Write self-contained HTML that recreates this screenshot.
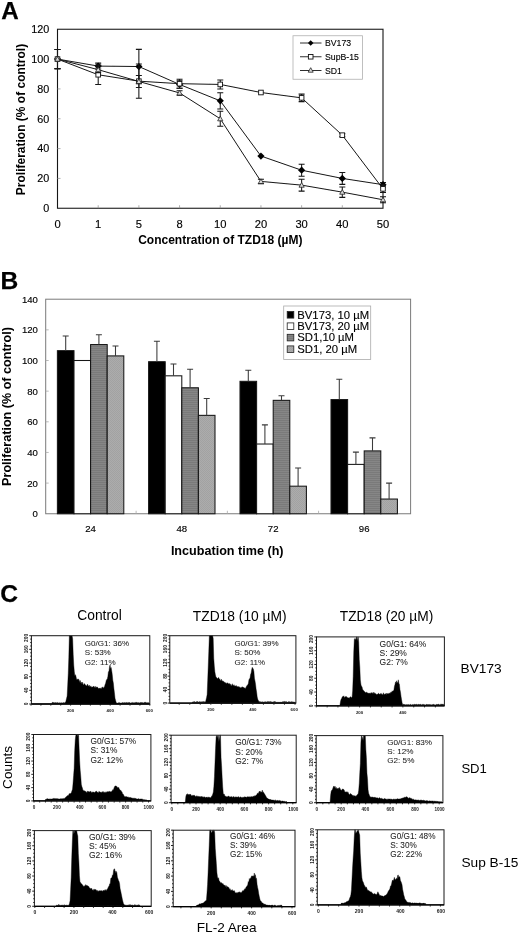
<!DOCTYPE html>
<html lang="en">
<head>
<meta charset="utf-8">
<title>TZD18 proliferation and cell cycle figure</title>
<style>
html,body{margin:0;padding:0;background:#fff;}
body{width:520px;height:934px;overflow:hidden;}
svg{display:block;}
svg text{font-family:"Liberation Sans", Arial, Helvetica, sans-serif;}
</style>
</head>
<body>
<svg width="520" height="934" viewBox="0 0 520 934">
<defs><filter id="soft" x="0" y="0" width="100%" height="100%" filterUnits="userSpaceOnUse" primitiveUnits="userSpaceOnUse"><feGaussianBlur stdDeviation="0.38"/></filter></defs>
<rect width="520" height="934" fill="#fff"/>
<g filter="url(#soft)">
<g id="panelA">
<text x="1.3" y="19.4" font-size="24.2" font-weight="bold" stroke="#000" stroke-width="0.25">A</text>
<rect x="57.5" y="29.25" width="325.5" height="179" fill="none" stroke="#161616" stroke-width="1.1"/>
<line x1="98.19" y1="208.25" x2="98.19" y2="205.25" stroke="#999" stroke-width="0.8"/>
<line x1="138.88" y1="208.25" x2="138.88" y2="205.25" stroke="#999" stroke-width="0.8"/>
<line x1="179.56" y1="208.25" x2="179.56" y2="205.25" stroke="#999" stroke-width="0.8"/>
<line x1="220.25" y1="208.25" x2="220.25" y2="205.25" stroke="#999" stroke-width="0.8"/>
<line x1="260.94" y1="208.25" x2="260.94" y2="205.25" stroke="#999" stroke-width="0.8"/>
<line x1="301.62" y1="208.25" x2="301.62" y2="205.25" stroke="#999" stroke-width="0.8"/>
<line x1="342.31" y1="208.25" x2="342.31" y2="205.25" stroke="#999" stroke-width="0.8"/>
<line x1="57.5" y1="178.42" x2="60.5" y2="178.42" stroke="#999" stroke-width="0.8"/>
<line x1="57.5" y1="148.58" x2="60.5" y2="148.58" stroke="#999" stroke-width="0.8"/>
<line x1="57.5" y1="118.75" x2="60.5" y2="118.75" stroke="#999" stroke-width="0.8"/>
<line x1="57.5" y1="88.92" x2="60.5" y2="88.92" stroke="#999" stroke-width="0.8"/>
<line x1="57.5" y1="59.08" x2="60.5" y2="59.08" stroke="#999" stroke-width="0.8"/>
<text x="49.3" y="212.15" font-size="10.8" text-anchor="end" fill="#000" stroke="#000" stroke-width="0.15">0</text>
<text x="49.3" y="182.32" font-size="10.8" text-anchor="end" fill="#000" stroke="#000" stroke-width="0.15">20</text>
<text x="49.3" y="152.48" font-size="10.8" text-anchor="end" fill="#000" stroke="#000" stroke-width="0.15">40</text>
<text x="49.3" y="122.65" font-size="10.8" text-anchor="end" fill="#000" stroke="#000" stroke-width="0.15">60</text>
<text x="49.3" y="92.82" font-size="10.8" text-anchor="end" fill="#000" stroke="#000" stroke-width="0.15">80</text>
<text x="49.3" y="62.98" font-size="10.8" text-anchor="end" fill="#000" stroke="#000" stroke-width="0.15">100</text>
<text x="49.3" y="33.15" font-size="10.8" text-anchor="end" fill="#000" stroke="#000" stroke-width="0.15">120</text>
<text x="57.5" y="228.2" font-size="11.2" text-anchor="middle" fill="#000" stroke="#000" stroke-width="0.15">0</text>
<text x="98.19" y="228.2" font-size="11.2" text-anchor="middle" fill="#000" stroke="#000" stroke-width="0.15">1</text>
<text x="138.88" y="228.2" font-size="11.2" text-anchor="middle" fill="#000" stroke="#000" stroke-width="0.15">5</text>
<text x="179.56" y="228.2" font-size="11.2" text-anchor="middle" fill="#000" stroke="#000" stroke-width="0.15">8</text>
<text x="220.25" y="228.2" font-size="11.2" text-anchor="middle" fill="#000" stroke="#000" stroke-width="0.15">10</text>
<text x="260.94" y="228.2" font-size="11.2" text-anchor="middle" fill="#000" stroke="#000" stroke-width="0.15">20</text>
<text x="301.62" y="228.2" font-size="11.2" text-anchor="middle" fill="#000" stroke="#000" stroke-width="0.15">30</text>
<text x="342.31" y="228.2" font-size="11.2" text-anchor="middle" fill="#000" stroke="#000" stroke-width="0.15">40</text>
<text x="383" y="228.2" font-size="11.2" text-anchor="middle" fill="#000" stroke="#000" stroke-width="0.15">50</text>
<text x="220.3" y="243.7" font-size="12" font-weight="bold" text-anchor="middle">Concentration of TZD18 (µM)</text>
<text transform="translate(24.7,119.5) rotate(-90)" font-size="12" font-weight="bold" text-anchor="middle">Proliferation (% of control)</text>
<polyline points="57.5,59.08 98.19,66.09 138.88,66.54 179.56,84.44 220.25,100.85 260.94,156.04 301.62,170.21 342.31,178.42 383,184.68" fill="none" stroke="#161616" stroke-width="1.0"/>
<path d="M57.5 49.54V68.63M54.5 49.54h6M54.5 68.63h6" stroke="#161616" stroke-width="1.05" fill="none"/>
<path d="M98.19 63.11V69.08M95.19 63.11h6M95.19 69.08h6" stroke="#161616" stroke-width="1.05" fill="none"/>
<path d="M138.88 49.39V83.7M135.88 49.39h6M135.88 83.7h6" stroke="#161616" stroke-width="1.05" fill="none"/>
<path d="M179.56 80.71V88.17M176.56 80.71h6M176.56 88.17h6" stroke="#161616" stroke-width="1.05" fill="none"/>
<path d="M220.25 92.65V109.05M217.25 92.65h6M217.25 109.05h6" stroke="#161616" stroke-width="1.05" fill="none"/>
<path d="M301.62 164.25V176.18M298.62 164.25h6M298.62 176.18h6" stroke="#161616" stroke-width="1.05" fill="none"/>
<path d="M342.31 172.45V184.38M339.31 172.45h6M339.31 184.38h6" stroke="#161616" stroke-width="1.05" fill="none"/>
<path d="M383 182.44V186.92M380 182.44h6M380 186.92h6" stroke="#161616" stroke-width="1.05" fill="none"/>
<path d="M57.5 55.48L61.1 59.08L57.5 62.68L53.9 59.08Z" fill="#000"/>
<path d="M98.19 62.49L101.79 66.09L98.19 69.69L94.59 66.09Z" fill="#000"/>
<path d="M138.88 62.94L142.47 66.54L138.88 70.14L135.28 66.54Z" fill="#000"/>
<path d="M179.56 80.84L183.16 84.44L179.56 88.04L175.96 84.44Z" fill="#000"/>
<path d="M220.25 97.25L223.85 100.85L220.25 104.45L216.65 100.85Z" fill="#000"/>
<path d="M260.94 152.44L264.54 156.04L260.94 159.64L257.34 156.04Z" fill="#000"/>
<path d="M301.62 166.61L305.23 170.21L301.62 173.81L298.02 170.21Z" fill="#000"/>
<path d="M342.31 174.82L345.91 178.42L342.31 182.02L338.71 178.42Z" fill="#000"/>
<path d="M383 181.08L386.6 184.68L383 188.28L379.4 184.68Z" fill="#000"/>
<polyline points="57.5,59.08 98.19,74.75 138.88,81.16 179.56,83.7 220.25,84.44 260.94,92.5 301.62,97.87 342.31,135.16 383,188.86" fill="none" stroke="#161616" stroke-width="1.0"/>
<path d="M57.5 49.54V68.63M54.5 49.54h6M54.5 68.63h6" stroke="#161616" stroke-width="1.05" fill="none"/>
<path d="M98.19 64.9V84.59M95.19 64.9h6M95.19 84.59h6" stroke="#161616" stroke-width="1.05" fill="none"/>
<path d="M138.88 64.01V98.31M135.88 64.01h6M135.88 98.31h6" stroke="#161616" stroke-width="1.05" fill="none"/>
<path d="M179.56 79.22V88.17M176.56 79.22h6M176.56 88.17h6" stroke="#161616" stroke-width="1.05" fill="none"/>
<path d="M220.25 79.97V88.92M217.25 79.97h6M217.25 88.92h6" stroke="#161616" stroke-width="1.05" fill="none"/>
<path d="M301.62 94.14V101.6M298.62 94.14h6M298.62 101.6h6" stroke="#161616" stroke-width="1.05" fill="none"/>
<path d="M342.31 133.67V136.65M339.31 133.67h6M339.31 136.65h6" stroke="#161616" stroke-width="1.05" fill="none"/>
<path d="M383 185.13V192.59M380 185.13h6M380 192.59h6" stroke="#161616" stroke-width="1.05" fill="none"/>
<rect x="55.2" y="56.78" width="4.6" height="4.6" fill="#fff" stroke="#111" stroke-width="0.9"/>
<rect x="95.89" y="72.45" width="4.6" height="4.6" fill="#fff" stroke="#111" stroke-width="0.9"/>
<rect x="136.57" y="78.86" width="4.6" height="4.6" fill="#fff" stroke="#111" stroke-width="0.9"/>
<rect x="177.26" y="81.4" width="4.6" height="4.6" fill="#fff" stroke="#111" stroke-width="0.9"/>
<rect x="217.95" y="82.14" width="4.6" height="4.6" fill="#fff" stroke="#111" stroke-width="0.9"/>
<rect x="258.64" y="90.2" width="4.6" height="4.6" fill="#fff" stroke="#111" stroke-width="0.9"/>
<rect x="299.32" y="95.57" width="4.6" height="4.6" fill="#fff" stroke="#111" stroke-width="0.9"/>
<rect x="340.01" y="132.86" width="4.6" height="4.6" fill="#fff" stroke="#111" stroke-width="0.9"/>
<rect x="380.7" y="186.56" width="4.6" height="4.6" fill="#fff" stroke="#111" stroke-width="0.9"/>
<polyline points="57.5,59.08 98.19,69.67 138.88,81.46 179.56,92.94 220.25,118.75 260.94,181.4 301.62,185.13 342.31,192.14 383,199.75" fill="none" stroke="#161616" stroke-width="1.0"/>
<path d="M57.5 49.54V68.63M54.5 49.54h6M54.5 68.63h6" stroke="#161616" stroke-width="1.05" fill="none"/>
<path d="M98.19 66.69V72.66M95.19 66.69h6M95.19 72.66h6" stroke="#161616" stroke-width="1.05" fill="none"/>
<path d="M138.88 75.49V87.42M135.88 75.49h6M135.88 87.42h6" stroke="#161616" stroke-width="1.05" fill="none"/>
<path d="M179.56 90.71V95.18M176.56 90.71h6M176.56 95.18h6" stroke="#161616" stroke-width="1.05" fill="none"/>
<path d="M220.25 111.29V126.21M217.25 111.29h6M217.25 126.21h6" stroke="#161616" stroke-width="1.05" fill="none"/>
<path d="M260.94 179.16V183.64M257.94 179.16h6M257.94 183.64h6" stroke="#161616" stroke-width="1.05" fill="none"/>
<path d="M301.62 179.16V191.1M298.62 179.16h6M298.62 191.1h6" stroke="#161616" stroke-width="1.05" fill="none"/>
<path d="M342.31 186.92V197.36M339.31 186.92h6M339.31 197.36h6" stroke="#161616" stroke-width="1.05" fill="none"/>
<path d="M383 196.76V202.73M380 196.76h6M380 202.73h6" stroke="#161616" stroke-width="1.05" fill="none"/>
<path d="M57.5 56.48L60.1 61.16L54.9 61.16Z" fill="#ddd" stroke="#222" stroke-width="0.8"/>
<path d="M98.19 67.07L100.79 71.75L95.59 71.75Z" fill="#ddd" stroke="#222" stroke-width="0.8"/>
<path d="M138.88 78.86L141.47 83.54L136.28 83.54Z" fill="#ddd" stroke="#222" stroke-width="0.8"/>
<path d="M179.56 90.34L182.16 95.02L176.96 95.02Z" fill="#ddd" stroke="#222" stroke-width="0.8"/>
<path d="M220.25 116.15L222.85 120.83L217.65 120.83Z" fill="#ddd" stroke="#222" stroke-width="0.8"/>
<path d="M260.94 178.8L263.54 183.48L258.34 183.48Z" fill="#ddd" stroke="#222" stroke-width="0.8"/>
<path d="M301.62 182.53L304.23 187.21L299.02 187.21Z" fill="#ddd" stroke="#222" stroke-width="0.8"/>
<path d="M342.31 189.54L344.91 194.22L339.71 194.22Z" fill="#ddd" stroke="#222" stroke-width="0.8"/>
<path d="M383 197.15L385.6 201.83L380.4 201.83Z" fill="#ddd" stroke="#222" stroke-width="0.8"/>
<rect x="293" y="35.75" width="69.5" height="43.5" fill="#fff" stroke="#b0b0b0" stroke-width="0.8"/>
<line x1="300" y1="43" x2="321.5" y2="43" stroke="#161616" stroke-width="0.9"/>
<path d="M310.7 40.2L313.5 43L310.7 45.8L307.9 43Z" fill="#000"/>
<text x="325" y="46.1" font-size="8.7" fill="#000" stroke="#000" stroke-width="0.12">BV173</text>
<line x1="300" y1="56.75" x2="321.5" y2="56.75" stroke="#161616" stroke-width="0.9"/>
<rect x="308.4" y="54.45" width="4.6" height="4.6" fill="#fff" stroke="#111" stroke-width="0.9"/>
<text x="325" y="59.85" font-size="8.7" fill="#000" stroke="#000" stroke-width="0.12">SupB-15</text>
<line x1="300" y1="70.5" x2="321.5" y2="70.5" stroke="#161616" stroke-width="0.9"/>
<path d="M310.7 67.7L313.2 72.2L308.2 72.2Z" fill="#ddd" stroke="#222" stroke-width="0.8"/>
<text x="325" y="73.6" font-size="8.7" fill="#000" stroke="#000" stroke-width="0.12">SD1</text>
</g>
<g id="panelB">
<defs><pattern id="pd" width="2" height="2" patternUnits="userSpaceOnUse"><rect width="2" height="2" fill="#868686"/><rect y="0" width="2" height="1" fill="#7a7a7a"/></pattern><pattern id="pl" width="2" height="2" patternUnits="userSpaceOnUse"><rect width="2" height="2" fill="#acacac"/><rect width="1" height="1" fill="#a2a2a2"/><rect x="1" y="1" width="1" height="1" fill="#a2a2a2"/></pattern></defs>
<text x="0.5" y="289.4" font-size="24.6" font-weight="bold" stroke="#000" stroke-width="0.25">B</text>
<rect x="45.7" y="299.2" width="364.9" height="214.55" fill="none" stroke="#7a7a7a" stroke-width="1"/>
<text x="37.9" y="517.15" font-size="9.6" text-anchor="end" fill="#000" stroke="#000" stroke-width="0.15">0</text>
<text x="37.9" y="486.5" font-size="9.6" text-anchor="end" fill="#000" stroke="#000" stroke-width="0.15">20</text>
<line x1="45.7" y1="483.1" x2="48.7" y2="483.1" stroke="#aaa" stroke-width="0.8"/>
<text x="37.9" y="455.85" font-size="9.6" text-anchor="end" fill="#000" stroke="#000" stroke-width="0.15">40</text>
<line x1="45.7" y1="452.45" x2="48.7" y2="452.45" stroke="#aaa" stroke-width="0.8"/>
<text x="37.9" y="425.2" font-size="9.6" text-anchor="end" fill="#000" stroke="#000" stroke-width="0.15">60</text>
<line x1="45.7" y1="421.8" x2="48.7" y2="421.8" stroke="#aaa" stroke-width="0.8"/>
<text x="37.9" y="394.55" font-size="9.6" text-anchor="end" fill="#000" stroke="#000" stroke-width="0.15">80</text>
<line x1="45.7" y1="391.15" x2="48.7" y2="391.15" stroke="#aaa" stroke-width="0.8"/>
<text x="37.9" y="363.9" font-size="9.6" text-anchor="end" fill="#000" stroke="#000" stroke-width="0.15">100</text>
<line x1="45.7" y1="360.5" x2="48.7" y2="360.5" stroke="#aaa" stroke-width="0.8"/>
<text x="37.9" y="333.25" font-size="9.6" text-anchor="end" fill="#000" stroke="#000" stroke-width="0.15">120</text>
<line x1="45.7" y1="329.85" x2="48.7" y2="329.85" stroke="#aaa" stroke-width="0.8"/>
<text x="37.9" y="302.6" font-size="9.6" text-anchor="end" fill="#000" stroke="#000" stroke-width="0.15">140</text>
<line x1="136.12" y1="513.75" x2="136.12" y2="510.75" stroke="#aaa" stroke-width="0.8"/>
<line x1="227.35" y1="513.75" x2="227.35" y2="510.75" stroke="#aaa" stroke-width="0.8"/>
<line x1="318.57" y1="513.75" x2="318.57" y2="510.75" stroke="#aaa" stroke-width="0.8"/>
<rect x="57.4" y="350.69" width="16.6" height="163.06" fill="#000" stroke="#151515" stroke-width="1.05"/>
<path d="M65.7 350.69V335.98M62.7 335.98h6" stroke="#3a3a3a" stroke-width="1.05" fill="none"/>
<rect x="74" y="360.5" width="16.6" height="153.25" fill="#fff" stroke="#151515" stroke-width="1.05"/>
<rect x="90.6" y="344.56" width="16.6" height="169.19" fill="url(#pd)" stroke="#151515" stroke-width="1.05"/>
<path d="M98.9 344.56V334.75M95.9 334.75h6" stroke="#3a3a3a" stroke-width="1.05" fill="none"/>
<rect x="107.2" y="355.9" width="16.6" height="157.85" fill="url(#pl)" stroke="#151515" stroke-width="1.05"/>
<path d="M115.5 355.9V346.09M112.5 346.09h6" stroke="#3a3a3a" stroke-width="1.05" fill="none"/>
<text x="90.6" y="532.4" font-size="9.6" text-anchor="middle" fill="#000" stroke="#000" stroke-width="0.15">24</text>
<rect x="148.6" y="361.73" width="16.6" height="152.02" fill="#000" stroke="#151515" stroke-width="1.05"/>
<path d="M156.9 361.73V341.34M153.9 341.34h6" stroke="#3a3a3a" stroke-width="1.05" fill="none"/>
<rect x="165.2" y="375.82" width="16.6" height="137.93" fill="#fff" stroke="#151515" stroke-width="1.05"/>
<path d="M173.5 375.82V364.02M170.5 364.02h6" stroke="#3a3a3a" stroke-width="1.05" fill="none"/>
<rect x="181.8" y="387.78" width="16.6" height="125.97" fill="url(#pd)" stroke="#151515" stroke-width="1.05"/>
<path d="M190.1 387.78V369.24M187.1 369.24h6" stroke="#3a3a3a" stroke-width="1.05" fill="none"/>
<rect x="198.4" y="415.36" width="16.6" height="98.39" fill="url(#pl)" stroke="#151515" stroke-width="1.05"/>
<path d="M206.7 415.36V398.51M203.7 398.51h6" stroke="#3a3a3a" stroke-width="1.05" fill="none"/>
<text x="181.8" y="532.4" font-size="9.6" text-anchor="middle" fill="#000" stroke="#000" stroke-width="0.15">48</text>
<rect x="240" y="381.34" width="16.6" height="132.41" fill="#000" stroke="#151515" stroke-width="1.05"/>
<path d="M248.3 381.34V370.31M245.3 370.31h6" stroke="#3a3a3a" stroke-width="1.05" fill="none"/>
<rect x="256.6" y="444.02" width="16.6" height="69.73" fill="#fff" stroke="#151515" stroke-width="1.05"/>
<path d="M264.9 444.02V424.87M261.9 424.87h6" stroke="#3a3a3a" stroke-width="1.05" fill="none"/>
<rect x="273.2" y="400.35" width="16.6" height="113.4" fill="url(#pd)" stroke="#151515" stroke-width="1.05"/>
<path d="M281.5 400.35V395.75M278.5 395.75h6" stroke="#3a3a3a" stroke-width="1.05" fill="none"/>
<rect x="289.8" y="486.17" width="16.6" height="27.58" fill="url(#pl)" stroke="#151515" stroke-width="1.05"/>
<path d="M298.1 486.17V468.08M295.1 468.08h6" stroke="#3a3a3a" stroke-width="1.05" fill="none"/>
<text x="273.2" y="532.4" font-size="9.6" text-anchor="middle" fill="#000" stroke="#000" stroke-width="0.15">72</text>
<rect x="331" y="399.58" width="16.6" height="114.17" fill="#000" stroke="#151515" stroke-width="1.05"/>
<path d="M339.3 399.58V379.2M336.3 379.2h6" stroke="#3a3a3a" stroke-width="1.05" fill="none"/>
<rect x="347.6" y="464.4" width="16.6" height="49.35" fill="#fff" stroke="#151515" stroke-width="1.05"/>
<path d="M355.9 464.4V452.14M352.9 452.14h6" stroke="#3a3a3a" stroke-width="1.05" fill="none"/>
<rect x="364.2" y="450.92" width="16.6" height="62.83" fill="url(#pd)" stroke="#151515" stroke-width="1.05"/>
<path d="M372.5 450.92V437.89M369.5 437.89h6" stroke="#3a3a3a" stroke-width="1.05" fill="none"/>
<rect x="380.8" y="499.04" width="16.6" height="14.71" fill="url(#pl)" stroke="#151515" stroke-width="1.05"/>
<path d="M389.1 499.04V483.1M386.1 483.1h6" stroke="#3a3a3a" stroke-width="1.05" fill="none"/>
<text x="364.2" y="532.4" font-size="9.6" text-anchor="middle" fill="#000" stroke="#000" stroke-width="0.15">96</text>
<text x="227.2" y="555.2" font-size="12.6" font-weight="bold" text-anchor="middle">Incubation time (h)</text>
<text transform="translate(10.9,406.5) rotate(-90)" font-size="12.6" font-weight="bold" text-anchor="middle">Proliferation (% of control)</text>
<rect x="283.7" y="306" width="87" height="53.4" fill="#fff" stroke="#aaa" stroke-width="0.8"/>
<rect x="287.2" y="311.5" width="6.6" height="6.6" fill="#000" stroke="#222" stroke-width="0.8"/>
<text x="297.3" y="318.6" font-size="11.3" fill="#000" stroke="#000" stroke-width="0.12">BV173, 10 µM</text>
<rect x="287.2" y="322.9" width="6.6" height="6.6" fill="#fff" stroke="#222" stroke-width="0.8"/>
<text x="297.3" y="330" font-size="11.3" fill="#000" stroke="#000" stroke-width="0.12">BV173, 20 µM</text>
<rect x="287.2" y="334.3" width="6.6" height="6.6" fill="url(#pd)" stroke="#222" stroke-width="0.8"/>
<text x="297.3" y="341.4" font-size="11.3" fill="#000" stroke="#000" stroke-width="0.12">SD1,10 µM</text>
<rect x="287.2" y="345.9" width="6.6" height="6.6" fill="url(#pl)" stroke="#222" stroke-width="0.8"/>
<text x="297.3" y="353" font-size="11.3" fill="#000" stroke="#000" stroke-width="0.12">SD1, 20 µM</text>
</g>
<g id="panelC">
<text x="0.3" y="602.2" font-size="24.6" font-weight="bold" stroke="#000" stroke-width="0.25">C</text>
<text x="77.3" y="620.2" font-size="13.8" fill="#000">Control</text>
<text x="192.8" y="620.5" font-size="13.8" fill="#000">TZD18 (10 µM)</text>
<text x="339.8" y="621.3" font-size="13.75" fill="#000">TZD18 (20 µM)</text>
<text x="460.6" y="672.9" font-size="13.7" fill="#000">BV173</text>
<text x="461.4" y="773" font-size="13.1" fill="#000">SD1</text>
<text x="461.4" y="866.7" font-size="13.7" fill="#000">Sup B-15</text>
<text transform="translate(12.2,767.4) rotate(-90)" font-size="13.6" text-anchor="middle" fill="#000">Counts</text>
<text x="196.8" y="931.6" font-size="13.6" fill="#000">FL-2 Area</text>
<g id="h1">
<path d="M65.5 703.4L65.5 703.12L66.05 700.6L66.6 698.21L67.15 696.09L67.7 684.88L68.25 673.39L68.8 657.83L69.35 635.7L69.9 635.7L70.45 635.7L71 636.27L71.55 635.7L72.1 635.88L72.65 638.77L73.2 654.33L73.75 665.08L74.3 671.57L74.85 675.82L75.4 674.64L75.95 676.24L76.5 679L77.05 680.01L77.6 678.93L78.15 679.17L78.7 679.09L79.25 682.43L79.8 680.33L80.35 680.65L80.9 683.28L81.45 682.14L82 684.22L82.55 682.12L83.1 684.59L83.65 684.92L84.2 683.45L84.75 684.07L85.3 684.97L85.85 685.34L86.4 685.68L86.95 685.75L87.5 684.05L88.05 685.64L88.6 686.29L89.15 685.02L89.7 686.61L90.25 686.9L90.8 685.84L91.35 687.04L91.9 687.31L92.45 687.1L93 687.03L93.55 685.97L94.1 686.64L94.65 687.86L95.2 686.25L95.75 687.93L96.3 686.74L96.85 687.86L97.4 686.87L97.95 688.08L98.5 688.47L99.05 688.33L99.6 688.35L100.15 688.04L100.7 688.46L101.25 688.77L101.8 687.41L102.35 687.46L102.9 686.79L103.45 688.32L104 687.47L104.55 686.57L105.1 684.53L105.65 683.32L106.2 680.56L106.75 679.45L107.3 678.89L107.85 676.49L108.4 671.63L108.95 671.6L109.5 666.78L110.05 664.94L110.6 668.39L111.15 667.57L111.7 670.65L112.25 674.6L112.8 680.22L113.35 682.92L113.9 688.62L114.45 692.92L115 698.13L115.55 700.18L116.1 702.35L116.3 703.4Z" fill="#000" stroke="#000" stroke-width="0.4"/>
<path d="M52 703.4L52 702.31L52.8 702.41L53.6 702.54L54.4 702.85L55.2 702.54L56 702.68L56.8 702.8L57.6 702.45L58.4 703.12L59.2 702.52L60 703.17L60.8 702.66L61.6 702.77L62.4 702.99L63.2 702.57L64 702.75L64.8 702.65L65.6 702.37L66.4 702.97L67.2 703.19L68 702.93L68.8 702.59L69.6 703.02L70.4 703.05L71.2 702.38L72 702.61L72.8 702.8L73.6 702.4L74.4 702.91L75.2 702.6L76 703.02L76.8 702.81L77.6 702.47L78.4 702.38L79.2 702.41L80 702.85L80.8 702.68L81.6 702.92L82.4 703.08L83.2 702.75L84 702.45L84.8 702.44L85.6 702.56L86.4 702.34L87.2 702.95L88 703.05L88.8 702.79L89.6 702.95L90.4 703.01L91.2 702.83L92 702.64L92.8 702.76L93.6 702.92L94.4 702.44L95.2 702.32L96 702.79L96.8 703.13L97.6 703.17L98.4 702.41L99.2 703.16L100 702.56L100.8 702.69L101.6 702.92L102.4 702.49L103.2 703.18L104 703.08L104.8 702.79L105.6 703.18L106.4 702.45L107.2 702.99L108 703.07L108.8 703.16L109.6 702.63L110.4 702.8L111.2 702.63L112 702.61L112.8 702.47L113.6 702.34L114.4 702.58L115.2 703.02L116 702.77L116.8 703.04L117.6 703.19L118.4 702.78L119.2 702.56L120 703.04L120.8 702.95L121.6 702.89L122.4 702.57L123.2 702.73L124 702.65L124.8 702.52L125.6 702.85L126.4 702.49L127.2 702.38L128 703.12L128.8 702.36L129.6 702.55L130.4 703.08L131.2 702.79L132 702.64L132.8 702.38L133.6 702.86L134.4 702.69L135.2 702.41L136 702.48L136.8 702.35L137.6 702.78L138.4 702.61L139.2 703.02L140 702.55L140.8 702.46L141.6 702.62L142.4 702.55L143.2 703.01L144 702.39L144.8 702.32L145.6 702.32L146.4 702.72L147.2 702.49L148 702.91L148.8 702.38L149 703.4Z" fill="#000" stroke="#000" stroke-width="0.3"/>
<rect x="31.4" y="635.7" width="118.4" height="68.3" fill="none" stroke="#1c1c1c" stroke-width="1"/>
<line x1="31.4" y1="704" x2="149.8" y2="704" stroke="#000" stroke-width="1.3"/>
<line x1="29.2" y1="704" x2="31.4" y2="704" stroke="#111" stroke-width="0.9"/>
<line x1="30.2" y1="700.59" x2="31.4" y2="700.59" stroke="#111" stroke-width="0.9"/>
<line x1="30.2" y1="697.17" x2="31.4" y2="697.17" stroke="#111" stroke-width="0.9"/>
<line x1="30.2" y1="693.75" x2="31.4" y2="693.75" stroke="#111" stroke-width="0.9"/>
<line x1="29.2" y1="690.34" x2="31.4" y2="690.34" stroke="#111" stroke-width="0.9"/>
<line x1="30.2" y1="686.92" x2="31.4" y2="686.92" stroke="#111" stroke-width="0.9"/>
<line x1="30.2" y1="683.51" x2="31.4" y2="683.51" stroke="#111" stroke-width="0.9"/>
<line x1="30.2" y1="680.1" x2="31.4" y2="680.1" stroke="#111" stroke-width="0.9"/>
<line x1="29.2" y1="676.68" x2="31.4" y2="676.68" stroke="#111" stroke-width="0.9"/>
<line x1="30.2" y1="673.26" x2="31.4" y2="673.26" stroke="#111" stroke-width="0.9"/>
<line x1="30.2" y1="669.85" x2="31.4" y2="669.85" stroke="#111" stroke-width="0.9"/>
<line x1="30.2" y1="666.44" x2="31.4" y2="666.44" stroke="#111" stroke-width="0.9"/>
<line x1="29.2" y1="663.02" x2="31.4" y2="663.02" stroke="#111" stroke-width="0.9"/>
<line x1="30.2" y1="659.61" x2="31.4" y2="659.61" stroke="#111" stroke-width="0.9"/>
<line x1="30.2" y1="656.19" x2="31.4" y2="656.19" stroke="#111" stroke-width="0.9"/>
<line x1="30.2" y1="652.78" x2="31.4" y2="652.78" stroke="#111" stroke-width="0.9"/>
<line x1="29.2" y1="649.36" x2="31.4" y2="649.36" stroke="#111" stroke-width="0.9"/>
<line x1="30.2" y1="645.95" x2="31.4" y2="645.95" stroke="#111" stroke-width="0.9"/>
<line x1="30.2" y1="642.53" x2="31.4" y2="642.53" stroke="#111" stroke-width="0.9"/>
<line x1="30.2" y1="639.12" x2="31.4" y2="639.12" stroke="#111" stroke-width="0.9"/>
<line x1="29.2" y1="635.7" x2="31.4" y2="635.7" stroke="#111" stroke-width="0.9"/>
<text transform="translate(28.2,704) rotate(-90)" font-size="4.8" font-weight="bold" text-anchor="middle" fill="#222">0</text>
<text transform="translate(28.2,690.34) rotate(-90)" font-size="4.8" font-weight="bold" text-anchor="middle" fill="#222">40</text>
<text transform="translate(28.2,676.68) rotate(-90)" font-size="4.8" font-weight="bold" text-anchor="middle" fill="#222">80</text>
<text transform="translate(28.2,663.02) rotate(-90)" font-size="4.8" font-weight="bold" text-anchor="middle" fill="#222">120</text>
<text transform="translate(28.2,649.36) rotate(-90)" font-size="4.8" font-weight="bold" text-anchor="middle" fill="#222">160</text>
<text transform="translate(28.2,637.9) rotate(-90)" font-size="4.8" font-weight="bold" text-anchor="middle" fill="#222">200</text>
<line x1="31" y1="704" x2="31" y2="705.6" stroke="#111" stroke-width="0.9"/>
<line x1="40.9" y1="704" x2="40.9" y2="705.6" stroke="#111" stroke-width="0.9"/>
<line x1="50.8" y1="704" x2="50.8" y2="705.6" stroke="#111" stroke-width="0.9"/>
<line x1="60.7" y1="704" x2="60.7" y2="705.6" stroke="#111" stroke-width="0.9"/>
<line x1="70.6" y1="704" x2="70.6" y2="705.6" stroke="#111" stroke-width="0.9"/>
<line x1="80.5" y1="704" x2="80.5" y2="705.6" stroke="#111" stroke-width="0.9"/>
<line x1="90.4" y1="704" x2="90.4" y2="705.6" stroke="#111" stroke-width="0.9"/>
<line x1="100.3" y1="704" x2="100.3" y2="705.6" stroke="#111" stroke-width="0.9"/>
<line x1="110.2" y1="704" x2="110.2" y2="705.6" stroke="#111" stroke-width="0.9"/>
<line x1="120.1" y1="704" x2="120.1" y2="705.6" stroke="#111" stroke-width="0.9"/>
<line x1="130" y1="704" x2="130" y2="705.6" stroke="#111" stroke-width="0.9"/>
<line x1="139.9" y1="704" x2="139.9" y2="705.6" stroke="#111" stroke-width="0.9"/>
<line x1="149.8" y1="704" x2="149.8" y2="705.6" stroke="#111" stroke-width="0.9"/>
<text x="70.6" y="712.3" font-size="4.4" font-weight="bold" text-anchor="middle" fill="#222">200</text>
<text x="110.2" y="712.3" font-size="4.4" font-weight="bold" text-anchor="middle" fill="#222">400</text>
<text x="149.3" y="712.3" font-size="4.4" font-weight="bold" text-anchor="middle" fill="#222">600</text>
<text x="84.8" y="646" font-size="8.07" fill="#242424" stroke="#242424" stroke-width="0.06">G0/G1: 36%</text>
<text x="84.8" y="655.3" font-size="8.07" fill="#242424" stroke="#242424" stroke-width="0.06">S: 53%</text>
<text x="84.8" y="664.6" font-size="8.07" fill="#242424" stroke="#242424" stroke-width="0.06">G2: 11%</text>
</g>
<g id="h2">
<path d="M205.5 702.5L205.5 702.17L206.05 699.79L206.6 697.44L207.15 694.54L207.7 680.38L208.25 665.92L208.8 651.22L209.35 635.7L209.9 635.8L210.45 635.73L211 635.7L211.55 635.7L212.1 635.73L212.65 635.7L213.2 638.52L213.75 658.19L214.3 666.09L214.85 671.85L215.4 674.63L215.95 677.02L216.5 677.59L217.05 678.01L217.6 679.05L218.15 677.84L218.7 677.52L219.25 679.62L219.8 678.76L220.35 680.77L220.9 680.17L221.45 679.2L222 681.33L222.55 680.7L223.1 681.55L223.65 681.22L224.2 682.32L224.75 682.32L225.3 683.14L225.85 682.48L226.4 683.53L226.95 683.52L227.5 682.83L228.05 683.09L228.6 684.08L229.15 684.28L229.7 683.35L230.25 685.5L230.8 683.99L231.35 685.45L231.9 685.72L232.45 683.73L233 685.38L233.55 685.53L234.1 684.74L234.65 686.17L235.2 685.79L235.75 686.22L236.3 685.55L236.85 686.52L237.4 686.67L237.95 686.51L238.5 686.56L239.05 687.48L239.6 686.7L240.15 687.74L240.7 687.64L241.25 687.33L241.8 687.38L242.35 686.67L242.9 687.32L243.45 687.47L244 687.38L244.55 688.33L245.1 687.67L245.65 688.9L246.2 686.97L246.75 685.67L247.3 685.21L247.85 684.69L248.4 683.33L248.95 679.7L249.5 678.75L250.05 678.07L250.6 674.37L251.15 673.11L251.7 669.46L252.25 667.33L252.8 668.27L253.35 669.07L253.9 671.49L254.45 678.24L255 680.96L255.55 684.22L256.1 689.02L256.65 692.36L257.2 696.95L257.75 699.27L258.3 700.35L258.85 701.78L259 702.5Z" fill="#000" stroke="#000" stroke-width="0.4"/>
<path d="M192 702.5L192 702.15L192.8 701.88L193.6 701.75L194.4 701.54L195.2 702.08L196 701.89L196.8 701.53L197.6 701.55L198.4 702.1L199.2 701.82L200 701.61L200.8 701.94L201.6 701.69L202.4 701.7L203.2 701.42L204 701.8L204.8 701.69L205.6 701.98L206.4 701.64L207.2 702.01L208 701.85L208.8 701.98L209.6 702.02L210.4 702.18L211.2 702.1L212 701.81L212.8 702.07L213.6 702.26L214.4 701.58L215.2 702.04L216 701.46L216.8 701.76L217.6 701.95L218.4 701.51L219.2 701.49L220 702.01L220.8 702.19L221.6 701.72L222.4 701.54L223.2 701.75L224 701.59L224.8 701.93L225.6 701.74L226.4 702.06L227.2 701.93L228 701.96L228.8 701.95L229.6 701.94L230.4 701.57L231.2 702.15L232 702.12L232.8 702.07L233.6 701.43L234.4 701.83L235.2 702.25L236 701.55L236.8 701.51L237.6 701.56L238.4 701.98L239.2 701.64L240 702.03L240.8 702.18L241.6 701.52L242.4 701.55L243.2 702.11L244 701.51L244.8 702.28L245.6 702.02L246.4 702.29L247.2 702.15L248 702.15L248.8 701.66L249.6 702.03L250.4 702.13L251.2 702.13L252 702.02L252.8 701.52L253.6 701.75L254.4 702.21L255.2 701.68L256 701.82L256.8 701.9L257.6 701.83L258.4 701.71L259.2 701.58L260 701.85L260.8 701.73L261.6 701.88L262.4 701.73L263.2 701.95L264 701.93L264.8 701.84L265.6 701.66L266.4 702.05L267.2 701.47L268 701.86L268.8 701.53L269.6 701.68L270.4 701.44L271.2 701.69L272 701.92L272.8 701.93L273.6 701.75L274.4 701.62L275.2 701.54L276 702.18L276.8 702.24L277.6 702.2L278.4 702.22L279.2 702.25L280 702.29L280.8 702.08L281.6 702.2L282.4 701.68L283.2 701.75L284 701.43L284.8 701.44L285.6 701.63L286.4 701.45L287.2 702.27L288 702.09L288.8 701.47L289.6 701.87L290.4 702.11L291.2 701.62L292 701.92L292.8 701.81L293.6 702.02L294.4 702.08L295 702.5Z" fill="#000" stroke="#000" stroke-width="0.3"/>
<rect x="169.8" y="635.7" width="126.1" height="67.4" fill="none" stroke="#1c1c1c" stroke-width="1"/>
<line x1="169.8" y1="703.1" x2="295.9" y2="703.1" stroke="#000" stroke-width="1.3"/>
<line x1="167.6" y1="703.1" x2="169.8" y2="703.1" stroke="#111" stroke-width="0.9"/>
<line x1="168.6" y1="699.73" x2="169.8" y2="699.73" stroke="#111" stroke-width="0.9"/>
<line x1="168.6" y1="696.36" x2="169.8" y2="696.36" stroke="#111" stroke-width="0.9"/>
<line x1="168.6" y1="692.99" x2="169.8" y2="692.99" stroke="#111" stroke-width="0.9"/>
<line x1="167.6" y1="689.62" x2="169.8" y2="689.62" stroke="#111" stroke-width="0.9"/>
<line x1="168.6" y1="686.25" x2="169.8" y2="686.25" stroke="#111" stroke-width="0.9"/>
<line x1="168.6" y1="682.88" x2="169.8" y2="682.88" stroke="#111" stroke-width="0.9"/>
<line x1="168.6" y1="679.51" x2="169.8" y2="679.51" stroke="#111" stroke-width="0.9"/>
<line x1="167.6" y1="676.14" x2="169.8" y2="676.14" stroke="#111" stroke-width="0.9"/>
<line x1="168.6" y1="672.77" x2="169.8" y2="672.77" stroke="#111" stroke-width="0.9"/>
<line x1="168.6" y1="669.4" x2="169.8" y2="669.4" stroke="#111" stroke-width="0.9"/>
<line x1="168.6" y1="666.03" x2="169.8" y2="666.03" stroke="#111" stroke-width="0.9"/>
<line x1="167.6" y1="662.66" x2="169.8" y2="662.66" stroke="#111" stroke-width="0.9"/>
<line x1="168.6" y1="659.29" x2="169.8" y2="659.29" stroke="#111" stroke-width="0.9"/>
<line x1="168.6" y1="655.92" x2="169.8" y2="655.92" stroke="#111" stroke-width="0.9"/>
<line x1="168.6" y1="652.55" x2="169.8" y2="652.55" stroke="#111" stroke-width="0.9"/>
<line x1="167.6" y1="649.18" x2="169.8" y2="649.18" stroke="#111" stroke-width="0.9"/>
<line x1="168.6" y1="645.81" x2="169.8" y2="645.81" stroke="#111" stroke-width="0.9"/>
<line x1="168.6" y1="642.44" x2="169.8" y2="642.44" stroke="#111" stroke-width="0.9"/>
<line x1="168.6" y1="639.07" x2="169.8" y2="639.07" stroke="#111" stroke-width="0.9"/>
<line x1="167.6" y1="635.7" x2="169.8" y2="635.7" stroke="#111" stroke-width="0.9"/>
<text transform="translate(166.6,703.1) rotate(-90)" font-size="4.8" font-weight="bold" text-anchor="middle" fill="#222">0</text>
<text transform="translate(166.6,689.62) rotate(-90)" font-size="4.8" font-weight="bold" text-anchor="middle" fill="#222">40</text>
<text transform="translate(166.6,676.14) rotate(-90)" font-size="4.8" font-weight="bold" text-anchor="middle" fill="#222">80</text>
<text transform="translate(166.6,662.66) rotate(-90)" font-size="4.8" font-weight="bold" text-anchor="middle" fill="#222">120</text>
<text transform="translate(166.6,649.18) rotate(-90)" font-size="4.8" font-weight="bold" text-anchor="middle" fill="#222">160</text>
<text transform="translate(166.6,637.9) rotate(-90)" font-size="4.8" font-weight="bold" text-anchor="middle" fill="#222">200</text>
<line x1="179.22" y1="703.1" x2="179.22" y2="704.7" stroke="#111" stroke-width="0.9"/>
<line x1="189.75" y1="703.1" x2="189.75" y2="704.7" stroke="#111" stroke-width="0.9"/>
<line x1="200.28" y1="703.1" x2="200.28" y2="704.7" stroke="#111" stroke-width="0.9"/>
<line x1="210.8" y1="703.1" x2="210.8" y2="704.7" stroke="#111" stroke-width="0.9"/>
<line x1="221.33" y1="703.1" x2="221.33" y2="704.7" stroke="#111" stroke-width="0.9"/>
<line x1="231.85" y1="703.1" x2="231.85" y2="704.7" stroke="#111" stroke-width="0.9"/>
<line x1="242.38" y1="703.1" x2="242.38" y2="704.7" stroke="#111" stroke-width="0.9"/>
<line x1="252.9" y1="703.1" x2="252.9" y2="704.7" stroke="#111" stroke-width="0.9"/>
<line x1="263.43" y1="703.1" x2="263.43" y2="704.7" stroke="#111" stroke-width="0.9"/>
<line x1="273.95" y1="703.1" x2="273.95" y2="704.7" stroke="#111" stroke-width="0.9"/>
<line x1="284.47" y1="703.1" x2="284.47" y2="704.7" stroke="#111" stroke-width="0.9"/>
<line x1="295" y1="703.1" x2="295" y2="704.7" stroke="#111" stroke-width="0.9"/>
<text x="210.8" y="711.4" font-size="4.4" font-weight="bold" text-anchor="middle" fill="#222">200</text>
<text x="252.9" y="711.4" font-size="4.4" font-weight="bold" text-anchor="middle" fill="#222">400</text>
<text x="294.2" y="711.4" font-size="4.4" font-weight="bold" text-anchor="middle" fill="#222">600</text>
<text x="234.5" y="646" font-size="8.03" fill="#242424" stroke="#242424" stroke-width="0.06">G0/G1: 39%</text>
<text x="234.5" y="655.3" font-size="8.03" fill="#242424" stroke="#242424" stroke-width="0.06">S: 50%</text>
<text x="234.5" y="664.6" font-size="8.03" fill="#242424" stroke="#242424" stroke-width="0.06">G2: 11%</text>
</g>
<g id="h3">
<path d="M340 705.2L340 704.86L340.55 701.37L341.1 699.28L341.65 698.56L342.2 697.01L342.75 696.42L343.3 696.46L343.85 695.8L344.4 697.49L344.95 697.25L345.5 696.48L346.05 696.64L346.6 696.59L347.15 697.64L347.7 697.51L348.25 697.71L348.8 698.11L349.35 698.28L349.9 697.12L350.45 696.78L351 697.16L351.55 697.62L352.1 697.28L352.65 690.86L353.2 676.3L353.75 652.01L354.3 639.61L354.85 638.42L355.4 638.87L355.95 640.25L356.5 636.9L357.05 636.9L357.6 640.88L358.15 636.9L358.7 641.98L359.25 659.29L359.8 667.01L360.35 680.01L360.9 684.19L361.45 686.47L362 686.59L362.55 689.43L363.1 689.75L363.65 690.64L364.2 691.26L364.75 691.86L365.3 692.56L365.85 692.79L366.4 691.86L366.95 693.2L367.5 692.76L368.05 693.18L368.6 693.34L369.15 692.95L369.7 693.52L370.25 692.79L370.8 693.92L371.35 692.61L371.9 692.91L372.45 692.74L373 694.08L373.55 692.15L374.1 693.63L374.65 692.67L375.2 693.24L375.75 694.06L376.3 694.17L376.85 694.55L377.4 694.34L377.95 693.74L378.5 693.37L379.05 693.84L379.6 694.34L380.15 694.25L380.7 693.39L381.25 693.38L381.8 694.31L382.35 694.95L382.9 694.11L383.45 692.78L384 694.65L384.55 694.32L385.1 693.86L385.65 693.76L386.2 694.77L386.75 693.04L387.3 693.69L387.85 693.72L388.4 694.01L388.95 692.94L389.5 693.22L390.05 693.5L390.6 692.52L391.15 691.79L391.7 692.86L392.25 690.81L392.8 691.38L393.35 690.72L393.9 690L394.45 686.35L395 684.4L395.55 681.83L396.1 683.29L396.65 680.75L397.2 682.16L397.75 682.99L398.3 679.79L398.85 683.25L399.4 684.16L399.95 689.51L400.5 692.35L401.05 696.39L401.6 699.83L402.15 702.97L402.7 704.47L403 705.2Z" fill="#000" stroke="#000" stroke-width="0.4"/>
<path d="M403 705.2L403 704.59L403.8 704.19L404.6 704.52L405.4 704.83L406.2 704.66L407 704.57L407.8 704.83L408.6 704.48L409.4 704.97L410.2 704.26L411 704.84L411.8 704.91L412.6 704.47L413.4 704.72L414.2 704.2L415 704.55L415.8 704.53L416.6 704.25L417.4 704.81L418.2 704.33L419 704.42L419.8 704.61L420.6 704.14L421.4 704.98L422.2 704.22L423 704.87L423.8 704.24L424.6 704.86L425.4 704.95L426.2 704.55L427 704.17L427.8 704.77L428.6 704.56L429.4 704.45L430.2 704.78L431 704.52L431.8 704.99L432.6 704.6L433.4 704.32L434.2 704.69L435 704.8L435.8 704.95L436.6 704.37L437.4 704.62L438.2 704.18L439 704.33L439.8 704.91L440.6 704.18L441.4 704.16L442.2 704.26L443 704.25L443.8 704.39L444 705.2Z" fill="#000" stroke="#000" stroke-width="0.3"/>
<rect x="316.5" y="636.9" width="127.9" height="68.9" fill="none" stroke="#1c1c1c" stroke-width="1"/>
<line x1="316.5" y1="705.8" x2="444.4" y2="705.8" stroke="#000" stroke-width="1.3"/>
<line x1="314.3" y1="705.8" x2="316.5" y2="705.8" stroke="#111" stroke-width="0.9"/>
<line x1="315.3" y1="702.35" x2="316.5" y2="702.35" stroke="#111" stroke-width="0.9"/>
<line x1="315.3" y1="698.91" x2="316.5" y2="698.91" stroke="#111" stroke-width="0.9"/>
<line x1="315.3" y1="695.46" x2="316.5" y2="695.46" stroke="#111" stroke-width="0.9"/>
<line x1="314.3" y1="692.02" x2="316.5" y2="692.02" stroke="#111" stroke-width="0.9"/>
<line x1="315.3" y1="688.57" x2="316.5" y2="688.57" stroke="#111" stroke-width="0.9"/>
<line x1="315.3" y1="685.13" x2="316.5" y2="685.13" stroke="#111" stroke-width="0.9"/>
<line x1="315.3" y1="681.68" x2="316.5" y2="681.68" stroke="#111" stroke-width="0.9"/>
<line x1="314.3" y1="678.24" x2="316.5" y2="678.24" stroke="#111" stroke-width="0.9"/>
<line x1="315.3" y1="674.79" x2="316.5" y2="674.79" stroke="#111" stroke-width="0.9"/>
<line x1="315.3" y1="671.35" x2="316.5" y2="671.35" stroke="#111" stroke-width="0.9"/>
<line x1="315.3" y1="667.9" x2="316.5" y2="667.9" stroke="#111" stroke-width="0.9"/>
<line x1="314.3" y1="664.46" x2="316.5" y2="664.46" stroke="#111" stroke-width="0.9"/>
<line x1="315.3" y1="661.01" x2="316.5" y2="661.01" stroke="#111" stroke-width="0.9"/>
<line x1="315.3" y1="657.57" x2="316.5" y2="657.57" stroke="#111" stroke-width="0.9"/>
<line x1="315.3" y1="654.12" x2="316.5" y2="654.12" stroke="#111" stroke-width="0.9"/>
<line x1="314.3" y1="650.68" x2="316.5" y2="650.68" stroke="#111" stroke-width="0.9"/>
<line x1="315.3" y1="647.24" x2="316.5" y2="647.24" stroke="#111" stroke-width="0.9"/>
<line x1="315.3" y1="643.79" x2="316.5" y2="643.79" stroke="#111" stroke-width="0.9"/>
<line x1="315.3" y1="640.35" x2="316.5" y2="640.35" stroke="#111" stroke-width="0.9"/>
<line x1="314.3" y1="636.9" x2="316.5" y2="636.9" stroke="#111" stroke-width="0.9"/>
<text transform="translate(313.3,705.8) rotate(-90)" font-size="4.8" font-weight="bold" text-anchor="middle" fill="#222">0</text>
<text transform="translate(313.3,692.02) rotate(-90)" font-size="4.8" font-weight="bold" text-anchor="middle" fill="#222">40</text>
<text transform="translate(313.3,678.24) rotate(-90)" font-size="4.8" font-weight="bold" text-anchor="middle" fill="#222">80</text>
<text transform="translate(313.3,664.46) rotate(-90)" font-size="4.8" font-weight="bold" text-anchor="middle" fill="#222">120</text>
<text transform="translate(313.3,650.68) rotate(-90)" font-size="4.8" font-weight="bold" text-anchor="middle" fill="#222">160</text>
<text transform="translate(313.3,639.1) rotate(-90)" font-size="4.8" font-weight="bold" text-anchor="middle" fill="#222">200</text>
<line x1="316.3" y1="705.8" x2="316.3" y2="707.4" stroke="#111" stroke-width="0.9"/>
<line x1="327.13" y1="705.8" x2="327.13" y2="707.4" stroke="#111" stroke-width="0.9"/>
<line x1="337.95" y1="705.8" x2="337.95" y2="707.4" stroke="#111" stroke-width="0.9"/>
<line x1="348.78" y1="705.8" x2="348.78" y2="707.4" stroke="#111" stroke-width="0.9"/>
<line x1="359.6" y1="705.8" x2="359.6" y2="707.4" stroke="#111" stroke-width="0.9"/>
<line x1="370.43" y1="705.8" x2="370.43" y2="707.4" stroke="#111" stroke-width="0.9"/>
<line x1="381.25" y1="705.8" x2="381.25" y2="707.4" stroke="#111" stroke-width="0.9"/>
<line x1="392.07" y1="705.8" x2="392.07" y2="707.4" stroke="#111" stroke-width="0.9"/>
<line x1="402.9" y1="705.8" x2="402.9" y2="707.4" stroke="#111" stroke-width="0.9"/>
<line x1="413.72" y1="705.8" x2="413.72" y2="707.4" stroke="#111" stroke-width="0.9"/>
<line x1="424.55" y1="705.8" x2="424.55" y2="707.4" stroke="#111" stroke-width="0.9"/>
<line x1="435.37" y1="705.8" x2="435.37" y2="707.4" stroke="#111" stroke-width="0.9"/>
<text x="359.6" y="714.1" font-size="4.4" font-weight="bold" text-anchor="middle" fill="#222">200</text>
<text x="402.9" y="714.1" font-size="4.4" font-weight="bold" text-anchor="middle" fill="#222">400</text>
<text x="379.6" y="646.7" font-size="8.47" fill="#242424" stroke="#242424" stroke-width="0.06">G0/G1: 64%</text>
<text x="379.6" y="656" font-size="8.47" fill="#242424" stroke="#242424" stroke-width="0.06">S: 29%</text>
<text x="379.6" y="665.3" font-size="8.47" fill="#242424" stroke="#242424" stroke-width="0.06">G2: 7%</text>
</g>
<g id="h4">
<path d="M45 800.3L45 799.95L45.55 799.46L46.1 799.49L46.65 798.85L47.2 798.73L47.75 798.71L48.3 799.11L48.85 798.92L49.4 798.89L49.95 799.19L50.5 798.9L51.05 798.92L51.6 799.03L52.15 799.04L52.7 798.65L53.25 798.55L53.8 798.38L54.35 798.67L54.9 798.37L55.45 798.79L56 798.41L56.55 798.69L57.1 798.55L57.65 798.86L58.2 798.83L58.75 799.04L59.3 798.93L59.85 799.04L60.4 798.73L60.95 798.78L61.5 798.76L62.05 798.85L62.6 798.76L63.15 798.25L63.7 798.84L64.25 798.38L64.8 798.32L65.35 797.53L65.9 797.2L66.45 796.42L67 796.36L67.55 795.49L68.1 795.43L68.65 795.27L69.2 793.61L69.75 793.81L70.3 793.53L70.85 793.46L71.4 792.58L71.95 790.8L72.5 789.23L73.05 783.24L73.6 775.63L74.15 768.35L74.7 750.65L75.25 739.92L75.8 735.38L76.35 734.5L76.9 734.5L77.45 734.5L78 736.69L78.55 734.5L79.1 748.22L79.65 760.88L80.2 770.35L80.75 776.21L81.3 784.29L81.85 786.59L82.4 788L82.95 790.18L83.5 790.39L84.05 790.71L84.6 790.79L85.15 791.41L85.7 791.32L86.25 792.56L86.8 792.19L87.35 790.92L87.9 792.47L88.45 791.14L89 792.37L89.55 791.81L90.1 791.18L90.65 791.5L91.2 791.64L91.75 792.68L92.3 792.16L92.85 792.01L93.4 792.08L93.95 792.19L94.5 792.42L95.05 792.14L95.6 791.49L96.15 791.17L96.7 791.36L97.25 792.37L97.8 792.22L98.35 793.13L98.9 791.35L99.45 791.68L100 792.05L100.55 792.12L101.1 792.92L101.65 791.93L102.2 792.21L102.75 791.46L103.3 792.85L103.85 791.56L104.4 792.27L104.95 792.83L105.5 792.61L106.05 791.6L106.6 792.47L107.15 792.09L107.7 791.52L108.25 791.46L108.8 792.06L109.35 791.28L109.9 791.51L110.45 791.76L111 791.74L111.55 791.41L112.1 791.12L112.65 789.64L113.2 790.16L113.75 788.87L114.3 787.19L114.85 786.13L115.4 785.9L115.95 786.02L116.5 786.19L117.05 786.81L117.6 787.38L118.15 788.01L118.7 787.22L119.25 789.09L119.8 789.44L120.35 790.54L120.9 790.22L121.45 791.72L122 791.77L122.55 794.09L123.1 793.89L123.65 795.11L124.2 795.88L124.75 796.73L125.3 796.78L125.85 796.6L126.4 796.55L126.95 797.06L127.5 797.01L128.05 797.27L128.6 797.13L129.15 797.44L129.7 797.5L130.25 797.37L130.8 797.76L131.35 797.94L131.9 797.79L132.45 798.15L133 798.13L133.55 798.24L134.1 798.15L134.65 798.29L135.2 798.54L135.75 798.25L136.3 798.82L136.85 798.98L137.4 798.96L137.95 799.1L138.5 798.76L139.05 798.65L139.6 799.19L140.15 799.01L140.7 798.99L141.25 798.94L141.8 798.97L142.35 799.14L142.9 799.29L143.45 799.63L144 799.75L144.55 799.81L145.1 799.69L145.65 799.99L146.2 800.06L146.75 799.89L147 800.3Z" fill="#000" stroke="#000" stroke-width="0.4"/>
<rect x="33.5" y="734.5" width="117.4" height="66.4" fill="none" stroke="#1c1c1c" stroke-width="1"/>
<line x1="33.5" y1="800.9" x2="150.9" y2="800.9" stroke="#000" stroke-width="1.3"/>
<line x1="31.3" y1="800.9" x2="33.5" y2="800.9" stroke="#111" stroke-width="0.9"/>
<line x1="32.3" y1="797.58" x2="33.5" y2="797.58" stroke="#111" stroke-width="0.9"/>
<line x1="32.3" y1="794.26" x2="33.5" y2="794.26" stroke="#111" stroke-width="0.9"/>
<line x1="32.3" y1="790.94" x2="33.5" y2="790.94" stroke="#111" stroke-width="0.9"/>
<line x1="31.3" y1="787.62" x2="33.5" y2="787.62" stroke="#111" stroke-width="0.9"/>
<line x1="32.3" y1="784.3" x2="33.5" y2="784.3" stroke="#111" stroke-width="0.9"/>
<line x1="32.3" y1="780.98" x2="33.5" y2="780.98" stroke="#111" stroke-width="0.9"/>
<line x1="32.3" y1="777.66" x2="33.5" y2="777.66" stroke="#111" stroke-width="0.9"/>
<line x1="31.3" y1="774.34" x2="33.5" y2="774.34" stroke="#111" stroke-width="0.9"/>
<line x1="32.3" y1="771.02" x2="33.5" y2="771.02" stroke="#111" stroke-width="0.9"/>
<line x1="32.3" y1="767.7" x2="33.5" y2="767.7" stroke="#111" stroke-width="0.9"/>
<line x1="32.3" y1="764.38" x2="33.5" y2="764.38" stroke="#111" stroke-width="0.9"/>
<line x1="31.3" y1="761.06" x2="33.5" y2="761.06" stroke="#111" stroke-width="0.9"/>
<line x1="32.3" y1="757.74" x2="33.5" y2="757.74" stroke="#111" stroke-width="0.9"/>
<line x1="32.3" y1="754.42" x2="33.5" y2="754.42" stroke="#111" stroke-width="0.9"/>
<line x1="32.3" y1="751.1" x2="33.5" y2="751.1" stroke="#111" stroke-width="0.9"/>
<line x1="31.3" y1="747.78" x2="33.5" y2="747.78" stroke="#111" stroke-width="0.9"/>
<line x1="32.3" y1="744.46" x2="33.5" y2="744.46" stroke="#111" stroke-width="0.9"/>
<line x1="32.3" y1="741.14" x2="33.5" y2="741.14" stroke="#111" stroke-width="0.9"/>
<line x1="32.3" y1="737.82" x2="33.5" y2="737.82" stroke="#111" stroke-width="0.9"/>
<line x1="31.3" y1="734.5" x2="33.5" y2="734.5" stroke="#111" stroke-width="0.9"/>
<text transform="translate(30.3,800.9) rotate(-90)" font-size="4.8" font-weight="bold" text-anchor="middle" fill="#222">0</text>
<text transform="translate(30.3,787.62) rotate(-90)" font-size="4.8" font-weight="bold" text-anchor="middle" fill="#222">40</text>
<text transform="translate(30.3,774.34) rotate(-90)" font-size="4.8" font-weight="bold" text-anchor="middle" fill="#222">80</text>
<text transform="translate(30.3,761.06) rotate(-90)" font-size="4.8" font-weight="bold" text-anchor="middle" fill="#222">120</text>
<text transform="translate(30.3,747.78) rotate(-90)" font-size="4.8" font-weight="bold" text-anchor="middle" fill="#222">160</text>
<text transform="translate(30.3,736.7) rotate(-90)" font-size="4.8" font-weight="bold" text-anchor="middle" fill="#222">200</text>
<line x1="34" y1="800.9" x2="34" y2="802.5" stroke="#111" stroke-width="0.9"/>
<line x1="39.73" y1="800.9" x2="39.73" y2="802.5" stroke="#111" stroke-width="0.9"/>
<line x1="45.45" y1="800.9" x2="45.45" y2="802.5" stroke="#111" stroke-width="0.9"/>
<line x1="51.18" y1="800.9" x2="51.18" y2="802.5" stroke="#111" stroke-width="0.9"/>
<line x1="56.9" y1="800.9" x2="56.9" y2="802.5" stroke="#111" stroke-width="0.9"/>
<line x1="62.63" y1="800.9" x2="62.63" y2="802.5" stroke="#111" stroke-width="0.9"/>
<line x1="68.35" y1="800.9" x2="68.35" y2="802.5" stroke="#111" stroke-width="0.9"/>
<line x1="74.08" y1="800.9" x2="74.08" y2="802.5" stroke="#111" stroke-width="0.9"/>
<line x1="79.8" y1="800.9" x2="79.8" y2="802.5" stroke="#111" stroke-width="0.9"/>
<line x1="85.52" y1="800.9" x2="85.52" y2="802.5" stroke="#111" stroke-width="0.9"/>
<line x1="91.25" y1="800.9" x2="91.25" y2="802.5" stroke="#111" stroke-width="0.9"/>
<line x1="96.97" y1="800.9" x2="96.97" y2="802.5" stroke="#111" stroke-width="0.9"/>
<line x1="102.7" y1="800.9" x2="102.7" y2="802.5" stroke="#111" stroke-width="0.9"/>
<line x1="108.42" y1="800.9" x2="108.42" y2="802.5" stroke="#111" stroke-width="0.9"/>
<line x1="114.15" y1="800.9" x2="114.15" y2="802.5" stroke="#111" stroke-width="0.9"/>
<line x1="119.87" y1="800.9" x2="119.87" y2="802.5" stroke="#111" stroke-width="0.9"/>
<line x1="125.6" y1="800.9" x2="125.6" y2="802.5" stroke="#111" stroke-width="0.9"/>
<line x1="131.32" y1="800.9" x2="131.32" y2="802.5" stroke="#111" stroke-width="0.9"/>
<line x1="137.05" y1="800.9" x2="137.05" y2="802.5" stroke="#111" stroke-width="0.9"/>
<line x1="142.77" y1="800.9" x2="142.77" y2="802.5" stroke="#111" stroke-width="0.9"/>
<line x1="148.5" y1="800.9" x2="148.5" y2="802.5" stroke="#111" stroke-width="0.9"/>
<text x="34" y="808.9" font-size="4.6" font-weight="bold" text-anchor="middle" fill="#222">0</text>
<text x="56.9" y="808.9" font-size="4.6" font-weight="bold" text-anchor="middle" fill="#222">200</text>
<text x="79.8" y="808.9" font-size="4.6" font-weight="bold" text-anchor="middle" fill="#222">400</text>
<text x="102.4" y="808.9" font-size="4.6" font-weight="bold" text-anchor="middle" fill="#222">600</text>
<text x="125.5" y="808.9" font-size="4.6" font-weight="bold" text-anchor="middle" fill="#222">800</text>
<text x="148.7" y="808.9" font-size="4.6" font-weight="bold" text-anchor="middle" fill="#222">1000</text>
<text x="90.5" y="744" font-size="8.32" fill="#242424" stroke="#242424" stroke-width="0.06">G0/G1: 57%</text>
<text x="90.5" y="753.3" font-size="8.32" fill="#242424" stroke="#242424" stroke-width="0.06">S: 31%</text>
<text x="90.5" y="762.6" font-size="8.32" fill="#242424" stroke="#242424" stroke-width="0.06">G2: 12%</text>
</g>
<g id="h5">
<path d="M185.3 802.1L185.3 802.09L185.85 796.62L186.4 794.61L186.95 794.15L187.5 793.73L188.05 794.91L188.6 794.24L189.15 795.18L189.7 793.98L190.25 794.56L190.8 794.35L191.35 795.64L191.9 795.66L192.45 795.4L193 795.2L193.55 795.44L194.1 794.92L194.65 795.58L195.2 796.75L195.75 796.22L196.3 795.69L196.85 796.45L197.4 795.93L197.95 797.08L198.5 796.29L199.05 796.48L199.6 796.74L200.15 796.17L200.7 797.16L201.25 796.51L201.8 796.49L202.35 797.25L202.9 796.43L203.45 797.35L204 797.28L204.55 796.7L205.1 797.2L205.65 797.65L206.2 797.04L206.75 797.36L207.3 797.06L207.85 797.65L208.4 797.29L208.95 797L209.5 797.26L210.05 798.04L210.6 797.46L211.15 797.33L211.7 796.02L212.25 795.4L212.8 793.9L213.35 792.04L213.9 786.37L214.45 776.78L215 762.61L215.55 748.78L216.1 737.36L216.65 735.2L217.2 737.71L217.75 735.2L218.3 742.1L218.85 735.2L219.4 740.98L219.95 735.2L220.5 735.2L221.05 757.54L221.6 765.89L222.15 777.17L222.7 786.95L223.25 793.39L223.8 794.25L224.35 794.24L224.9 795.99L225.45 796.12L226 796.74L226.55 796.63L227.1 796.48L227.65 796.87L228.2 796.31L228.75 795.92L229.3 796.5L229.85 797.16L230.4 796.76L230.95 797.1L231.5 796.43L232.05 797.26L232.6 797.14L233.15 796.45L233.7 796.7L234.25 797.45L234.8 796.79L235.35 797.15L235.9 796.67L236.45 796.99L237 797.14L237.55 797.12L238.1 797.27L238.65 796.47L239.2 797.27L239.75 797.85L240.3 796.99L240.85 796.86L241.4 797.22L241.95 797.88L242.5 797.22L243.05 797.27L243.6 797.31L244.15 797.13L244.7 796.75L245.25 796.99L245.8 797.09L246.35 797.62L246.9 796.83L247.45 796.82L248 796.96L248.55 796.66L249.1 797.22L249.65 796.72L250.2 796.43L250.75 797.19L251.3 796.6L251.85 796.84L252.4 797.07L252.95 796.18L253.5 796.32L254.05 796.44L254.6 795.64L255.15 795.91L255.7 795.68L256.25 794.75L256.8 795.29L257.35 793.34L257.9 793.26L258.45 793.57L259 791.57L259.55 791.56L260.1 791.03L260.65 792.21L261.2 791.98L261.75 792.16L262.3 790.09L262.85 792.45L263.4 791.96L263.95 793.31L264.5 793.72L265.05 794.77L265.6 795.79L266.15 796.64L266.7 797.74L267.25 798L267.8 798.61L268.35 799.12L268.9 799.12L269.45 799.53L270 799.13L270.55 799.58L271.1 799.72L271.65 800.03L272.2 800.08L272.75 800L273.3 800.03L273.85 800.35L274.4 800.29L274.95 800.49L275.5 799.98L276.05 800.46L276.6 800.64L277.15 800.35L277.7 800.5L278.25 800.59L278.8 800.87L279.35 800.48L279.9 800.51L280.45 800.76L281 801.18L281.55 801.17L282.1 800.9L282.65 801.06L283.2 801.12L283.75 801.54L284.3 801.28L284.85 801.59L285.4 801.66L285.95 801.63L286.5 801.57L287 802.1Z" fill="#000" stroke="#000" stroke-width="0.4"/>
<rect x="171.1" y="735.2" width="125.1" height="67.5" fill="none" stroke="#1c1c1c" stroke-width="1"/>
<line x1="171.1" y1="802.7" x2="296.2" y2="802.7" stroke="#000" stroke-width="1.3"/>
<line x1="168.9" y1="802.7" x2="171.1" y2="802.7" stroke="#111" stroke-width="0.9"/>
<line x1="169.9" y1="799.33" x2="171.1" y2="799.33" stroke="#111" stroke-width="0.9"/>
<line x1="169.9" y1="795.95" x2="171.1" y2="795.95" stroke="#111" stroke-width="0.9"/>
<line x1="169.9" y1="792.58" x2="171.1" y2="792.58" stroke="#111" stroke-width="0.9"/>
<line x1="168.9" y1="789.2" x2="171.1" y2="789.2" stroke="#111" stroke-width="0.9"/>
<line x1="169.9" y1="785.83" x2="171.1" y2="785.83" stroke="#111" stroke-width="0.9"/>
<line x1="169.9" y1="782.45" x2="171.1" y2="782.45" stroke="#111" stroke-width="0.9"/>
<line x1="169.9" y1="779.08" x2="171.1" y2="779.08" stroke="#111" stroke-width="0.9"/>
<line x1="168.9" y1="775.7" x2="171.1" y2="775.7" stroke="#111" stroke-width="0.9"/>
<line x1="169.9" y1="772.33" x2="171.1" y2="772.33" stroke="#111" stroke-width="0.9"/>
<line x1="169.9" y1="768.95" x2="171.1" y2="768.95" stroke="#111" stroke-width="0.9"/>
<line x1="169.9" y1="765.58" x2="171.1" y2="765.58" stroke="#111" stroke-width="0.9"/>
<line x1="168.9" y1="762.2" x2="171.1" y2="762.2" stroke="#111" stroke-width="0.9"/>
<line x1="169.9" y1="758.83" x2="171.1" y2="758.83" stroke="#111" stroke-width="0.9"/>
<line x1="169.9" y1="755.45" x2="171.1" y2="755.45" stroke="#111" stroke-width="0.9"/>
<line x1="169.9" y1="752.08" x2="171.1" y2="752.08" stroke="#111" stroke-width="0.9"/>
<line x1="168.9" y1="748.7" x2="171.1" y2="748.7" stroke="#111" stroke-width="0.9"/>
<line x1="169.9" y1="745.33" x2="171.1" y2="745.33" stroke="#111" stroke-width="0.9"/>
<line x1="169.9" y1="741.95" x2="171.1" y2="741.95" stroke="#111" stroke-width="0.9"/>
<line x1="169.9" y1="738.58" x2="171.1" y2="738.58" stroke="#111" stroke-width="0.9"/>
<line x1="168.9" y1="735.2" x2="171.1" y2="735.2" stroke="#111" stroke-width="0.9"/>
<text transform="translate(167.9,802.7) rotate(-90)" font-size="4.8" font-weight="bold" text-anchor="middle" fill="#222">0</text>
<text transform="translate(167.9,789.2) rotate(-90)" font-size="4.8" font-weight="bold" text-anchor="middle" fill="#222">40</text>
<text transform="translate(167.9,775.7) rotate(-90)" font-size="4.8" font-weight="bold" text-anchor="middle" fill="#222">80</text>
<text transform="translate(167.9,762.2) rotate(-90)" font-size="4.8" font-weight="bold" text-anchor="middle" fill="#222">120</text>
<text transform="translate(167.9,748.7) rotate(-90)" font-size="4.8" font-weight="bold" text-anchor="middle" fill="#222">160</text>
<text transform="translate(167.9,737.4) rotate(-90)" font-size="4.8" font-weight="bold" text-anchor="middle" fill="#222">200</text>
<line x1="171.8" y1="802.7" x2="171.8" y2="804.3" stroke="#111" stroke-width="0.9"/>
<line x1="177.85" y1="802.7" x2="177.85" y2="804.3" stroke="#111" stroke-width="0.9"/>
<line x1="183.9" y1="802.7" x2="183.9" y2="804.3" stroke="#111" stroke-width="0.9"/>
<line x1="189.95" y1="802.7" x2="189.95" y2="804.3" stroke="#111" stroke-width="0.9"/>
<line x1="196" y1="802.7" x2="196" y2="804.3" stroke="#111" stroke-width="0.9"/>
<line x1="202.05" y1="802.7" x2="202.05" y2="804.3" stroke="#111" stroke-width="0.9"/>
<line x1="208.1" y1="802.7" x2="208.1" y2="804.3" stroke="#111" stroke-width="0.9"/>
<line x1="214.15" y1="802.7" x2="214.15" y2="804.3" stroke="#111" stroke-width="0.9"/>
<line x1="220.2" y1="802.7" x2="220.2" y2="804.3" stroke="#111" stroke-width="0.9"/>
<line x1="226.25" y1="802.7" x2="226.25" y2="804.3" stroke="#111" stroke-width="0.9"/>
<line x1="232.3" y1="802.7" x2="232.3" y2="804.3" stroke="#111" stroke-width="0.9"/>
<line x1="238.35" y1="802.7" x2="238.35" y2="804.3" stroke="#111" stroke-width="0.9"/>
<line x1="244.4" y1="802.7" x2="244.4" y2="804.3" stroke="#111" stroke-width="0.9"/>
<line x1="250.45" y1="802.7" x2="250.45" y2="804.3" stroke="#111" stroke-width="0.9"/>
<line x1="256.5" y1="802.7" x2="256.5" y2="804.3" stroke="#111" stroke-width="0.9"/>
<line x1="262.55" y1="802.7" x2="262.55" y2="804.3" stroke="#111" stroke-width="0.9"/>
<line x1="268.6" y1="802.7" x2="268.6" y2="804.3" stroke="#111" stroke-width="0.9"/>
<line x1="274.65" y1="802.7" x2="274.65" y2="804.3" stroke="#111" stroke-width="0.9"/>
<line x1="280.7" y1="802.7" x2="280.7" y2="804.3" stroke="#111" stroke-width="0.9"/>
<line x1="286.75" y1="802.7" x2="286.75" y2="804.3" stroke="#111" stroke-width="0.9"/>
<line x1="292.8" y1="802.7" x2="292.8" y2="804.3" stroke="#111" stroke-width="0.9"/>
<text x="171.8" y="810.7" font-size="4.6" font-weight="bold" text-anchor="middle" fill="#222">0</text>
<text x="196" y="810.7" font-size="4.6" font-weight="bold" text-anchor="middle" fill="#222">200</text>
<text x="220.3" y="810.7" font-size="4.6" font-weight="bold" text-anchor="middle" fill="#222">400</text>
<text x="244.4" y="810.7" font-size="4.6" font-weight="bold" text-anchor="middle" fill="#222">600</text>
<text x="268.7" y="810.7" font-size="4.6" font-weight="bold" text-anchor="middle" fill="#222">800</text>
<text x="293.3" y="810.7" font-size="4.6" font-weight="bold" text-anchor="middle" fill="#222">1000</text>
<text x="235.3" y="745.2" font-size="8.41" fill="#242424" stroke="#242424" stroke-width="0.06">G0/G1: 73%</text>
<text x="235.3" y="754.5" font-size="8.41" fill="#242424" stroke="#242424" stroke-width="0.06">S: 20%</text>
<text x="235.3" y="763.8" font-size="8.41" fill="#242424" stroke="#242424" stroke-width="0.06">G2: 7%</text>
</g>
<g id="h6">
<path d="M330.1 802.1L330.1 801.86L330.65 795.12L331.2 791.22L331.75 790.24L332.3 789.77L332.85 788.3L333.4 786.74L333.95 785.96L334.5 787.47L335.05 786.17L335.6 788.77L336.15 787.34L336.7 788.69L337.25 788.57L337.8 788.72L338.35 787.85L338.9 789.4L339.45 787.38L340 788.19L340.55 789.96L341.1 789.79L341.65 790.42L342.2 789.3L342.75 788.95L343.3 789.05L343.85 789.7L344.4 790.44L344.95 792.23L345.5 791.96L346.05 791.93L346.6 791.75L347.15 792.68L347.7 791.7L348.25 792.54L348.8 793.92L349.35 794.39L349.9 794.53L350.45 793.62L351 793.85L351.55 794.41L352.1 794.83L352.65 795.85L353.2 795.14L353.75 796.14L354.3 795.9L354.85 795.54L355.4 795.96L355.95 796.48L356.5 795.42L357.05 795.14L357.6 794.35L358.15 793.66L358.7 790.4L359.25 783.39L359.8 772.7L360.35 763.6L360.9 742.39L361.45 735.6L362 736.57L362.55 738.05L363.1 740.57L363.65 735.6L364.2 735.6L364.75 735.68L365.3 735.6L365.85 749.38L366.4 757.68L366.95 773.18L367.5 778.67L368.05 789.49L368.6 793.23L369.15 794.55L369.7 796.32L370.25 796.61L370.8 797.31L371.35 797.18L371.9 797.03L372.45 797.32L373 796.84L373.55 797.68L374.1 797.06L374.65 797.42L375.2 797.31L375.75 797.74L376.3 797.64L376.85 798.12L377.4 798.01L377.95 797.68L378.5 798.66L379.05 797.76L379.6 797.73L380.15 798.16L380.7 798.53L381.25 798.45L381.8 798.33L382.35 798.78L382.9 799.03L383.45 799.18L384 798.87L384.55 798.49L385.1 798.78L385.65 798.93L386.2 799.15L386.75 799.16L387.3 798.89L387.85 799.42L388.4 799.03L388.95 798.96L389.5 799.07L390.05 798.95L390.6 799.13L391.15 799.16L391.7 799L392.25 799.61L392.8 799.53L393.35 799.11L393.9 799.25L394.45 799.25L395 799.31L395.55 799.19L396.1 799.02L396.65 799.2L397.2 798.86L397.75 798.77L398.3 799.02L398.85 798.95L399.4 799.09L399.95 798.85L400.5 798.97L401.05 798.3L401.6 798.48L402.15 798.19L402.7 798.04L403.25 798.11L403.8 797.55L404.35 797.67L404.9 796.86L405.45 797.86L406 796.73L406.55 796.84L407.1 797.25L407.65 797.2L408.2 798.32L408.75 798.31L409.3 797.55L409.85 798.04L410.4 798.15L410.95 798.14L411.5 798.38L412.05 799.14L412.6 799.15L413.15 799.17L413.7 799.31L414.25 799.85L414.8 800.02L415.35 799.74L415.9 800.12L416.45 799.96L417 800.35L417.55 800.12L418.1 800.22L418.65 799.88L419.2 800.19L419.75 800.43L420.3 800.04L420.85 800.31L421.4 800.15L421.95 800.12L422.5 800.59L423.05 800.32L423.6 800.22L424.15 800.48L424.7 800.6L425.25 800.73L425.8 800.93L426.35 800.59L426.9 800.84L427.45 800.77L428 800.78L428.55 801.2L429.1 801.02L429.65 800.86L430.2 800.88L430.75 801.09L431.3 800.92L431.85 801.17L432.4 800.97L432.95 800.94L433.5 801.17L434.05 801.41L434.6 801.11L435.15 801.24L435.7 801.33L436.25 801.48L436.8 801.22L437.35 801.5L437.9 801.36L438.45 801.65L439 801.84L439.55 801.82L440.1 801.54L440.65 801.96L441.2 801.72L441.75 801.95L442 802.1Z" fill="#000" stroke="#000" stroke-width="0.4"/>
<rect x="316.2" y="735.6" width="126.7" height="67.1" fill="none" stroke="#1c1c1c" stroke-width="1"/>
<line x1="316.2" y1="802.7" x2="442.9" y2="802.7" stroke="#000" stroke-width="1.3"/>
<line x1="314" y1="802.7" x2="316.2" y2="802.7" stroke="#111" stroke-width="0.9"/>
<line x1="315" y1="799.35" x2="316.2" y2="799.35" stroke="#111" stroke-width="0.9"/>
<line x1="315" y1="795.99" x2="316.2" y2="795.99" stroke="#111" stroke-width="0.9"/>
<line x1="315" y1="792.63" x2="316.2" y2="792.63" stroke="#111" stroke-width="0.9"/>
<line x1="314" y1="789.28" x2="316.2" y2="789.28" stroke="#111" stroke-width="0.9"/>
<line x1="315" y1="785.93" x2="316.2" y2="785.93" stroke="#111" stroke-width="0.9"/>
<line x1="315" y1="782.57" x2="316.2" y2="782.57" stroke="#111" stroke-width="0.9"/>
<line x1="315" y1="779.22" x2="316.2" y2="779.22" stroke="#111" stroke-width="0.9"/>
<line x1="314" y1="775.86" x2="316.2" y2="775.86" stroke="#111" stroke-width="0.9"/>
<line x1="315" y1="772.5" x2="316.2" y2="772.5" stroke="#111" stroke-width="0.9"/>
<line x1="315" y1="769.15" x2="316.2" y2="769.15" stroke="#111" stroke-width="0.9"/>
<line x1="315" y1="765.8" x2="316.2" y2="765.8" stroke="#111" stroke-width="0.9"/>
<line x1="314" y1="762.44" x2="316.2" y2="762.44" stroke="#111" stroke-width="0.9"/>
<line x1="315" y1="759.09" x2="316.2" y2="759.09" stroke="#111" stroke-width="0.9"/>
<line x1="315" y1="755.73" x2="316.2" y2="755.73" stroke="#111" stroke-width="0.9"/>
<line x1="315" y1="752.38" x2="316.2" y2="752.38" stroke="#111" stroke-width="0.9"/>
<line x1="314" y1="749.02" x2="316.2" y2="749.02" stroke="#111" stroke-width="0.9"/>
<line x1="315" y1="745.67" x2="316.2" y2="745.67" stroke="#111" stroke-width="0.9"/>
<line x1="315" y1="742.31" x2="316.2" y2="742.31" stroke="#111" stroke-width="0.9"/>
<line x1="315" y1="738.96" x2="316.2" y2="738.96" stroke="#111" stroke-width="0.9"/>
<line x1="314" y1="735.6" x2="316.2" y2="735.6" stroke="#111" stroke-width="0.9"/>
<text transform="translate(313,802.7) rotate(-90)" font-size="4.8" font-weight="bold" text-anchor="middle" fill="#222">0</text>
<text transform="translate(313,789.28) rotate(-90)" font-size="4.8" font-weight="bold" text-anchor="middle" fill="#222">40</text>
<text transform="translate(313,775.86) rotate(-90)" font-size="4.8" font-weight="bold" text-anchor="middle" fill="#222">80</text>
<text transform="translate(313,762.44) rotate(-90)" font-size="4.8" font-weight="bold" text-anchor="middle" fill="#222">120</text>
<text transform="translate(313,749.02) rotate(-90)" font-size="4.8" font-weight="bold" text-anchor="middle" fill="#222">160</text>
<text transform="translate(313,737.8) rotate(-90)" font-size="4.8" font-weight="bold" text-anchor="middle" fill="#222">200</text>
<line x1="316.7" y1="802.7" x2="316.7" y2="804.3" stroke="#111" stroke-width="0.9"/>
<line x1="322.82" y1="802.7" x2="322.82" y2="804.3" stroke="#111" stroke-width="0.9"/>
<line x1="328.95" y1="802.7" x2="328.95" y2="804.3" stroke="#111" stroke-width="0.9"/>
<line x1="335.07" y1="802.7" x2="335.07" y2="804.3" stroke="#111" stroke-width="0.9"/>
<line x1="341.2" y1="802.7" x2="341.2" y2="804.3" stroke="#111" stroke-width="0.9"/>
<line x1="347.32" y1="802.7" x2="347.32" y2="804.3" stroke="#111" stroke-width="0.9"/>
<line x1="353.45" y1="802.7" x2="353.45" y2="804.3" stroke="#111" stroke-width="0.9"/>
<line x1="359.57" y1="802.7" x2="359.57" y2="804.3" stroke="#111" stroke-width="0.9"/>
<line x1="365.7" y1="802.7" x2="365.7" y2="804.3" stroke="#111" stroke-width="0.9"/>
<line x1="371.82" y1="802.7" x2="371.82" y2="804.3" stroke="#111" stroke-width="0.9"/>
<line x1="377.95" y1="802.7" x2="377.95" y2="804.3" stroke="#111" stroke-width="0.9"/>
<line x1="384.07" y1="802.7" x2="384.07" y2="804.3" stroke="#111" stroke-width="0.9"/>
<line x1="390.2" y1="802.7" x2="390.2" y2="804.3" stroke="#111" stroke-width="0.9"/>
<line x1="396.32" y1="802.7" x2="396.32" y2="804.3" stroke="#111" stroke-width="0.9"/>
<line x1="402.45" y1="802.7" x2="402.45" y2="804.3" stroke="#111" stroke-width="0.9"/>
<line x1="408.57" y1="802.7" x2="408.57" y2="804.3" stroke="#111" stroke-width="0.9"/>
<line x1="414.7" y1="802.7" x2="414.7" y2="804.3" stroke="#111" stroke-width="0.9"/>
<line x1="420.82" y1="802.7" x2="420.82" y2="804.3" stroke="#111" stroke-width="0.9"/>
<line x1="426.95" y1="802.7" x2="426.95" y2="804.3" stroke="#111" stroke-width="0.9"/>
<line x1="433.07" y1="802.7" x2="433.07" y2="804.3" stroke="#111" stroke-width="0.9"/>
<line x1="439.2" y1="802.7" x2="439.2" y2="804.3" stroke="#111" stroke-width="0.9"/>
<text x="316.7" y="810.9" font-size="4.6" font-weight="bold" text-anchor="middle" fill="#222">0</text>
<text x="341.2" y="810.9" font-size="4.6" font-weight="bold" text-anchor="middle" fill="#222">200</text>
<text x="365.4" y="810.9" font-size="4.6" font-weight="bold" text-anchor="middle" fill="#222">400</text>
<text x="390.4" y="810.9" font-size="4.6" font-weight="bold" text-anchor="middle" fill="#222">600</text>
<text x="415" y="810.9" font-size="4.6" font-weight="bold" text-anchor="middle" fill="#222">800</text>
<text x="439.5" y="810.9" font-size="4.6" font-weight="bold" text-anchor="middle" fill="#222">1000</text>
<text x="387.3" y="744.7" font-size="8.12" fill="#242424" stroke="#242424" stroke-width="0.06">G0/G1: 83%</text>
<text x="387.3" y="754" font-size="8.12" fill="#242424" stroke="#242424" stroke-width="0.06">S: 12%</text>
<text x="387.3" y="763.3" font-size="8.12" fill="#242424" stroke="#242424" stroke-width="0.06">G2: 5%</text>
</g>
<g id="h7">
<path d="M69 905.7L69 905.3L69.55 903.14L70.1 900.62L70.65 889.08L71.2 877.21L71.75 857.7L72.3 842.53L72.85 830.6L73.4 831.09L73.95 834.23L74.5 830.6L75.05 830.6L75.6 830.6L76.15 830.6L76.7 830.6L77.25 833.99L77.8 836.02L78.35 853.62L78.9 862.18L79.45 875.92L80 882.11L80.55 882.39L81.1 883.7L81.65 883.75L82.2 884.5L82.75 885.2L83.3 885.94L83.85 886.53L84.4 885.68L84.95 886.48L85.5 884.62L86.05 885.56L86.6 885.13L87.15 886.12L87.7 885.62L88.25 886.46L88.8 886.35L89.35 888.21L89.9 887.71L90.45 888.4L91 888.9L91.55 888.08L92.1 889.6L92.65 890.1L93.2 890.53L93.75 889.2L94.3 889.22L94.85 889.74L95.4 889.61L95.95 889.61L96.5 890.13L97.05 891.43L97.6 890.44L98.15 890.7L98.7 891.43L99.25 890.44L99.8 891.11L100.35 890.82L100.9 890.74L101.45 890.53L102 891.27L102.55 891.23L103.1 890.25L103.65 890.61L104.2 890.89L104.75 889.79L105.3 890.41L105.85 889.48L106.4 890.88L106.95 889.55L107.5 888.96L108.05 887.71L108.6 886.53L109.15 886.04L109.7 883.85L110.25 883.44L110.8 878.32L111.35 877.97L111.9 877.54L112.45 874.82L113 875.38L113.55 870.46L114.1 868.85L114.65 868.98L115.2 873.24L115.75 870.89L116.3 871.51L116.85 872.63L117.4 877.25L117.95 878.69L118.5 880.44L119.05 881.45L119.6 883.68L120.15 888.8L120.7 891.12L121.25 893.83L121.8 896.58L122.35 899.25L122.9 901.45L123.45 903.62L124 904.38L124.55 904.97L125 905.7Z" fill="#000" stroke="#000" stroke-width="0.4"/>
<path d="M56 905.7L56 905.32L56.8 905.17L57.6 905.31L58.4 904.61L59.2 904.79L60 905.36L60.8 905.24L61.6 905.11L62.4 905.02L63.2 905.15L64 905.03L64.8 904.82L65.6 905.36L66.4 905L67.2 905.35L68 905.02L68.8 905.21L69.6 904.78L70.4 904.71L71.2 904.64L72 905.13L72.8 904.94L73.6 905.35L74.4 904.86L75.2 904.8L76 905.12L76.8 905.21L77.6 904.82L78.4 904.82L79.2 904.78L80 905.24L80.8 905.28L81.6 905.27L82.4 905.33L83.2 905.49L84 905.39L84.8 905.06L85.6 905.11L86.4 904.7L87.2 905.16L88 905.35L88.8 904.66L89.6 905.43L90.4 905.19L91.2 904.81L92 905.21L92.8 904.63L93.6 904.83L94.4 905.22L95.2 904.72L96 904.67L96.8 905.04L97.6 905.37L98.4 905.41L99.2 904.76L100 904.7L100.8 904.91L101.6 904.8L102.4 904.79L103.2 905.29L104 905.31L104.8 904.72L105.6 904.74L106.4 905.11L107.2 905.26L108 905.43L108.8 905.14L109.6 904.68L110.4 905.32L111.2 905.22L112 905.47L112.8 904.99L113.6 905.45L114.4 904.89L115.2 905.06L116 905.12L116.8 905.27L117.6 905.23L118.4 904.7L119.2 904.65L120 904.82L120.8 905.31L121.6 905.31L122.4 905.17L123.2 904.71L124 904.65L124.8 905.29L125.6 904.93L126.4 905.16L127.2 905.09L128 905.32L128.8 904.85L129.6 904.8L130.4 904.65L131.2 905.06L132 905.1L132.8 904.92L133.6 905.38L134.4 904.71L135.2 904.81L136 905.3L136.8 905.14L137.6 905.06L138.4 904.73L139.2 904.88L140 905.28L140 905.7Z" fill="#000" stroke="#000" stroke-width="0.3"/>
<rect x="34.4" y="830.6" width="116.8" height="75.7" fill="none" stroke="#1c1c1c" stroke-width="1"/>
<line x1="34.4" y1="906.3" x2="151.2" y2="906.3" stroke="#000" stroke-width="1.3"/>
<line x1="32.2" y1="906.3" x2="34.4" y2="906.3" stroke="#111" stroke-width="0.9"/>
<line x1="33.2" y1="902.51" x2="34.4" y2="902.51" stroke="#111" stroke-width="0.9"/>
<line x1="33.2" y1="898.73" x2="34.4" y2="898.73" stroke="#111" stroke-width="0.9"/>
<line x1="33.2" y1="894.94" x2="34.4" y2="894.94" stroke="#111" stroke-width="0.9"/>
<line x1="32.2" y1="891.16" x2="34.4" y2="891.16" stroke="#111" stroke-width="0.9"/>
<line x1="33.2" y1="887.38" x2="34.4" y2="887.38" stroke="#111" stroke-width="0.9"/>
<line x1="33.2" y1="883.59" x2="34.4" y2="883.59" stroke="#111" stroke-width="0.9"/>
<line x1="33.2" y1="879.8" x2="34.4" y2="879.8" stroke="#111" stroke-width="0.9"/>
<line x1="32.2" y1="876.02" x2="34.4" y2="876.02" stroke="#111" stroke-width="0.9"/>
<line x1="33.2" y1="872.24" x2="34.4" y2="872.24" stroke="#111" stroke-width="0.9"/>
<line x1="33.2" y1="868.45" x2="34.4" y2="868.45" stroke="#111" stroke-width="0.9"/>
<line x1="33.2" y1="864.66" x2="34.4" y2="864.66" stroke="#111" stroke-width="0.9"/>
<line x1="32.2" y1="860.88" x2="34.4" y2="860.88" stroke="#111" stroke-width="0.9"/>
<line x1="33.2" y1="857.1" x2="34.4" y2="857.1" stroke="#111" stroke-width="0.9"/>
<line x1="33.2" y1="853.31" x2="34.4" y2="853.31" stroke="#111" stroke-width="0.9"/>
<line x1="33.2" y1="849.52" x2="34.4" y2="849.52" stroke="#111" stroke-width="0.9"/>
<line x1="32.2" y1="845.74" x2="34.4" y2="845.74" stroke="#111" stroke-width="0.9"/>
<line x1="33.2" y1="841.96" x2="34.4" y2="841.96" stroke="#111" stroke-width="0.9"/>
<line x1="33.2" y1="838.17" x2="34.4" y2="838.17" stroke="#111" stroke-width="0.9"/>
<line x1="33.2" y1="834.38" x2="34.4" y2="834.38" stroke="#111" stroke-width="0.9"/>
<line x1="32.2" y1="830.6" x2="34.4" y2="830.6" stroke="#111" stroke-width="0.9"/>
<text transform="translate(31.2,906.3) rotate(-90)" font-size="4.8" font-weight="bold" text-anchor="middle" fill="#222">0</text>
<text transform="translate(31.2,891.16) rotate(-90)" font-size="4.8" font-weight="bold" text-anchor="middle" fill="#222">40</text>
<text transform="translate(31.2,876.02) rotate(-90)" font-size="4.8" font-weight="bold" text-anchor="middle" fill="#222">80</text>
<text transform="translate(31.2,860.88) rotate(-90)" font-size="4.8" font-weight="bold" text-anchor="middle" fill="#222">120</text>
<text transform="translate(31.2,845.74) rotate(-90)" font-size="4.8" font-weight="bold" text-anchor="middle" fill="#222">160</text>
<text transform="translate(31.2,832.8) rotate(-90)" font-size="4.8" font-weight="bold" text-anchor="middle" fill="#222">200</text>
<line x1="34.8" y1="906.3" x2="34.8" y2="907.9" stroke="#111" stroke-width="0.9"/>
<line x1="44.58" y1="906.3" x2="44.58" y2="907.9" stroke="#111" stroke-width="0.9"/>
<line x1="54.35" y1="906.3" x2="54.35" y2="907.9" stroke="#111" stroke-width="0.9"/>
<line x1="64.13" y1="906.3" x2="64.13" y2="907.9" stroke="#111" stroke-width="0.9"/>
<line x1="73.9" y1="906.3" x2="73.9" y2="907.9" stroke="#111" stroke-width="0.9"/>
<line x1="83.68" y1="906.3" x2="83.68" y2="907.9" stroke="#111" stroke-width="0.9"/>
<line x1="93.45" y1="906.3" x2="93.45" y2="907.9" stroke="#111" stroke-width="0.9"/>
<line x1="103.23" y1="906.3" x2="103.23" y2="907.9" stroke="#111" stroke-width="0.9"/>
<line x1="113" y1="906.3" x2="113" y2="907.9" stroke="#111" stroke-width="0.9"/>
<line x1="122.78" y1="906.3" x2="122.78" y2="907.9" stroke="#111" stroke-width="0.9"/>
<line x1="132.55" y1="906.3" x2="132.55" y2="907.9" stroke="#111" stroke-width="0.9"/>
<line x1="142.33" y1="906.3" x2="142.33" y2="907.9" stroke="#111" stroke-width="0.9"/>
<text x="34.8" y="914.3" font-size="5.0" font-weight="bold" text-anchor="middle" fill="#222">0</text>
<text x="73.9" y="914.3" font-size="5.0" font-weight="bold" text-anchor="middle" fill="#222">200</text>
<text x="112.4" y="914.3" font-size="5.0" font-weight="bold" text-anchor="middle" fill="#222">400</text>
<text x="149.2" y="914.3" font-size="5.0" font-weight="bold" text-anchor="middle" fill="#222">600</text>
<text x="89" y="839.6" font-size="8.47" fill="#242424" stroke="#242424" stroke-width="0.06">G0/G1: 39%</text>
<text x="89" y="848.9" font-size="8.47" fill="#242424" stroke="#242424" stroke-width="0.06">S: 45%</text>
<text x="89" y="858.2" font-size="8.47" fill="#242424" stroke="#242424" stroke-width="0.06">G2: 16%</text>
</g>
<g id="h8">
<path d="M196 906.1L196 905.77L196.55 905.73L197.1 905.3L197.65 905.05L198.2 904.9L198.75 904.53L199.3 904.07L199.85 903.77L200.4 904.08L200.95 903.6L201.5 903.51L202.05 903.05L202.6 903.34L203.15 902.9L203.7 902.65L204.25 902.06L204.8 901.42L205.35 901.1L205.9 900.78L206.45 899.88L207 892.64L207.55 884.62L208.1 872.38L208.65 858.42L209.2 845.59L209.75 830.2L210.3 830.2L210.85 830.2L211.4 832.83L211.95 832.27L212.5 830.2L213.05 831.38L213.6 830.2L214.15 830.2L214.7 832.84L215.25 848.14L215.8 855.65L216.35 863.52L216.9 872.45L217.45 876.65L218 878.86L218.55 877.72L219.1 880.84L219.65 881.22L220.2 881.98L220.75 883.28L221.3 882.51L221.85 883.26L222.4 884.08L222.95 883.38L223.5 884.9L224.05 884.83L224.6 885.55L225.15 885.16L225.7 886.94L226.25 885.52L226.8 887.73L227.35 886.48L227.9 887.1L228.45 887.13L229 887.74L229.55 889.58L230.1 888.71L230.65 890.44L231.2 890L231.75 890.5L232.3 889.59L232.85 891.01L233.4 890.91L233.95 890.71L234.5 890.72L235.05 892.76L235.6 892.66L236.15 893.15L236.7 892.45L237.25 893.26L237.8 892.35L238.35 892.04L238.9 892.8L239.45 892.06L240 891.67L240.55 892.76L241.1 893.12L241.65 892.09L242.2 891.48L242.75 890.6L243.3 890.48L243.85 891.12L244.4 889.13L244.95 888.59L245.5 888.93L246.05 887.01L246.6 886.83L247.15 885.68L247.7 884.99L248.25 881.59L248.8 882.34L249.35 878.52L249.9 879.78L250.45 877.98L251 877.85L251.55 875.92L252.1 875.96L252.65 876.14L253.2 875.81L253.75 876.56L254.3 872.99L254.85 876.57L255.4 874.64L255.95 878.77L256.5 878.28L257.05 884.34L257.6 887.44L258.15 889.87L258.7 893.58L259.25 896.21L259.8 898.81L260.35 900.78L260.9 901.09L261.45 901.71L262 902.73L262.55 903.12L263.1 903.12L263.65 904.13L264.2 904.11L264.75 904.19L265.3 904.2L265.85 904.77L266.4 904.98L266.95 905.1L267.5 905.36L268.05 905.22L268.6 905.4L269.15 905.35L269.7 905.33L270.25 905.56L270.8 905.78L271.35 905.86L271.9 905.66L272 906.1Z" fill="#000" stroke="#000" stroke-width="0.4"/>
<path d="M197 906.1L197 905.16L197.8 905.6L198.6 905.67L199.4 905.04L200.2 905.69L201 905.48L201.8 905.52L202.6 905.57L203.4 905.42L204.2 905.8L205 905.48L205.8 905.29L206.6 905.14L207.4 905.46L208.2 905.69L209 905.65L209.8 905.73L210.6 905.77L211.4 905.62L212.2 905.55L213 905.05L213.8 905.22L214.6 905.07L215.4 905.46L216.2 905.73L217 905.39L217.8 905.27L218.6 905.01L219.4 905.69L220.2 905.21L221 905.04L221.8 905.55L222.6 905.43L223.4 905.8L224.2 905.3L225 905.85L225.8 905.2L226.6 905.22L227.4 905.15L228.2 905.14L229 905.84L229.8 905.11L230.6 905.26L231.4 905.05L232.2 905.09L233 905.47L233.8 905.13L234.6 905.72L235.4 905.03L236.2 905.29L237 905.17L237.8 905.41L238.6 905.38L239.4 905.68L240.2 905.18L241 905.43L241.8 905.7L242.6 905.22L243.4 905.38L244.2 905.51L245 905.17L245.8 905.52L246.6 905.29L247.4 905.41L248.2 905.57L249 905.58L249.8 905.37L250.6 905.73L251.4 905.75L252.2 905.62L253 905.26L253.8 905.73L254.6 905.21L255.4 905.61L256.2 905.05L257 905.8L257.8 905.13L258.6 905.16L259.4 905.15L260.2 905.33L261 905.63L261.8 905.04L262.6 905.7L263.4 905.27L264.2 905.53L265 905.84L265.8 905.53L266.6 905.61L267.4 905.19L268.2 905.71L269 905.16L269.8 905.87L270.6 905.82L271.4 905.34L272.2 905.06L273 905.35L273.8 905.75L274.6 905.08L275.4 905.29L276.2 905.89L277 905.78L277.8 905.55L278.6 905.42L279.4 905.39L280.2 905.15L281 905.35L281.8 905.04L282 906.1Z" fill="#000" stroke="#000" stroke-width="0.3"/>
<rect x="173.2" y="830.2" width="121.8" height="76.5" fill="none" stroke="#1c1c1c" stroke-width="1"/>
<line x1="173.2" y1="906.7" x2="295" y2="906.7" stroke="#000" stroke-width="1.3"/>
<line x1="171" y1="906.7" x2="173.2" y2="906.7" stroke="#111" stroke-width="0.9"/>
<line x1="172" y1="902.88" x2="173.2" y2="902.88" stroke="#111" stroke-width="0.9"/>
<line x1="172" y1="899.05" x2="173.2" y2="899.05" stroke="#111" stroke-width="0.9"/>
<line x1="172" y1="895.23" x2="173.2" y2="895.23" stroke="#111" stroke-width="0.9"/>
<line x1="171" y1="891.4" x2="173.2" y2="891.4" stroke="#111" stroke-width="0.9"/>
<line x1="172" y1="887.58" x2="173.2" y2="887.58" stroke="#111" stroke-width="0.9"/>
<line x1="172" y1="883.75" x2="173.2" y2="883.75" stroke="#111" stroke-width="0.9"/>
<line x1="172" y1="879.93" x2="173.2" y2="879.93" stroke="#111" stroke-width="0.9"/>
<line x1="171" y1="876.1" x2="173.2" y2="876.1" stroke="#111" stroke-width="0.9"/>
<line x1="172" y1="872.28" x2="173.2" y2="872.28" stroke="#111" stroke-width="0.9"/>
<line x1="172" y1="868.45" x2="173.2" y2="868.45" stroke="#111" stroke-width="0.9"/>
<line x1="172" y1="864.62" x2="173.2" y2="864.62" stroke="#111" stroke-width="0.9"/>
<line x1="171" y1="860.8" x2="173.2" y2="860.8" stroke="#111" stroke-width="0.9"/>
<line x1="172" y1="856.98" x2="173.2" y2="856.98" stroke="#111" stroke-width="0.9"/>
<line x1="172" y1="853.15" x2="173.2" y2="853.15" stroke="#111" stroke-width="0.9"/>
<line x1="172" y1="849.33" x2="173.2" y2="849.33" stroke="#111" stroke-width="0.9"/>
<line x1="171" y1="845.5" x2="173.2" y2="845.5" stroke="#111" stroke-width="0.9"/>
<line x1="172" y1="841.68" x2="173.2" y2="841.68" stroke="#111" stroke-width="0.9"/>
<line x1="172" y1="837.85" x2="173.2" y2="837.85" stroke="#111" stroke-width="0.9"/>
<line x1="172" y1="834.03" x2="173.2" y2="834.03" stroke="#111" stroke-width="0.9"/>
<line x1="171" y1="830.2" x2="173.2" y2="830.2" stroke="#111" stroke-width="0.9"/>
<text transform="translate(170,906.7) rotate(-90)" font-size="4.8" font-weight="bold" text-anchor="middle" fill="#222">0</text>
<text transform="translate(170,891.4) rotate(-90)" font-size="4.8" font-weight="bold" text-anchor="middle" fill="#222">40</text>
<text transform="translate(170,876.1) rotate(-90)" font-size="4.8" font-weight="bold" text-anchor="middle" fill="#222">80</text>
<text transform="translate(170,860.8) rotate(-90)" font-size="4.8" font-weight="bold" text-anchor="middle" fill="#222">120</text>
<text transform="translate(170,845.5) rotate(-90)" font-size="4.8" font-weight="bold" text-anchor="middle" fill="#222">160</text>
<text transform="translate(170,832.4) rotate(-90)" font-size="4.8" font-weight="bold" text-anchor="middle" fill="#222">200</text>
<line x1="180.9" y1="906.7" x2="180.9" y2="908.3" stroke="#111" stroke-width="0.9"/>
<line x1="191" y1="906.7" x2="191" y2="908.3" stroke="#111" stroke-width="0.9"/>
<line x1="201.1" y1="906.7" x2="201.1" y2="908.3" stroke="#111" stroke-width="0.9"/>
<line x1="211.2" y1="906.7" x2="211.2" y2="908.3" stroke="#111" stroke-width="0.9"/>
<line x1="221.3" y1="906.7" x2="221.3" y2="908.3" stroke="#111" stroke-width="0.9"/>
<line x1="231.4" y1="906.7" x2="231.4" y2="908.3" stroke="#111" stroke-width="0.9"/>
<line x1="241.5" y1="906.7" x2="241.5" y2="908.3" stroke="#111" stroke-width="0.9"/>
<line x1="251.6" y1="906.7" x2="251.6" y2="908.3" stroke="#111" stroke-width="0.9"/>
<line x1="261.7" y1="906.7" x2="261.7" y2="908.3" stroke="#111" stroke-width="0.9"/>
<line x1="271.8" y1="906.7" x2="271.8" y2="908.3" stroke="#111" stroke-width="0.9"/>
<line x1="281.9" y1="906.7" x2="281.9" y2="908.3" stroke="#111" stroke-width="0.9"/>
<line x1="292" y1="906.7" x2="292" y2="908.3" stroke="#111" stroke-width="0.9"/>
<text x="211.2" y="914.7" font-size="5.0" font-weight="bold" text-anchor="middle" fill="#222">200</text>
<text x="251.6" y="914.7" font-size="5.0" font-weight="bold" text-anchor="middle" fill="#222">400</text>
<text x="292.1" y="914.7" font-size="5.0" font-weight="bold" text-anchor="middle" fill="#222">600</text>
<text x="230" y="838.6" font-size="8.21" fill="#242424" stroke="#242424" stroke-width="0.06">G0/G1: 46%</text>
<text x="230" y="847.9" font-size="8.21" fill="#242424" stroke="#242424" stroke-width="0.06">S: 39%</text>
<text x="230" y="857.2" font-size="8.21" fill="#242424" stroke="#242424" stroke-width="0.06">G2: 15%</text>
</g>
<g id="h9">
<path d="M341 904.3L341 903.91L341.55 903.84L342.1 903.39L342.65 903.62L343.2 903.37L343.75 903.16L344.3 902.96L344.85 902.6L345.4 902.63L345.95 902.12L346.5 901.71L347.05 901.48L347.6 901.27L348.15 900.93L348.7 900.74L349.25 899.43L349.8 897.75L350.35 896.78L350.9 894.53L351.45 889.74L352 878.87L352.55 868.11L353.1 858.78L353.65 850.94L354.2 838.33L354.75 829.8L355.3 829.8L355.85 833.38L356.4 832.42L356.95 831.37L357.5 831.04L358.05 829.8L358.6 830.75L359.15 833.29L359.7 834.91L360.25 853.09L360.8 861.66L361.35 871.28L361.9 877.64L362.45 880.7L363 881.83L363.55 882.99L364.1 884.97L364.65 885.47L365.2 887.64L365.75 886.7L366.3 887.06L366.85 888.22L367.4 889.81L367.95 890.59L368.5 890.29L369.05 891.26L369.6 890.96L370.15 891.81L370.7 892.09L371.25 891.78L371.8 892.43L372.35 893.37L372.9 893.58L373.45 894.03L374 894.25L374.55 893.41L375.1 893.75L375.65 894.31L376.2 894.62L376.75 894.38L377.3 893.26L377.85 891.74L378.4 892.83L378.95 894.03L379.5 895.15L380.05 895.5L380.6 895.46L381.15 895.54L381.7 896.12L382.25 895.92L382.8 896.09L383.35 896.64L383.9 896.04L384.45 896.01L385 895.24L385.55 895.57L386.1 894.62L386.65 894.83L387.2 893.55L387.75 892.61L388.3 891.3L388.85 890.39L389.4 889.77L389.95 888.48L390.5 886.01L391.05 885.63L391.6 883.87L392.15 880.98L392.7 879.97L393.25 880.84L393.8 879.46L394.35 877.35L394.9 879.36L395.45 879.74L396 878.68L396.55 878.22L397.1 879.32L397.65 875.52L398.2 874.86L398.75 877.42L399.3 876.69L399.85 876.75L400.4 880.56L400.95 881.52L401.5 883.03L402.05 884.85L402.6 889.18L403.15 891.74L403.7 894.83L404.25 896.43L404.8 898.73L405.35 899.51L405.9 900.3L406.45 901.11L407 901.9L407.55 902.33L408.1 902.27L408.65 902.51L409.2 902.66L409.75 902.37L410.3 902.71L410.85 902.82L411.4 903.1L411.95 903.26L412.5 902.86L413.05 903.06L413.6 903.29L414.15 903.01L414.7 902.95L415.25 903.33L415.8 902.94L416.35 903.15L416.9 903.11L417.45 903.36L418 903.13L418.55 903.36L419.1 903.04L419.65 903.05L420.2 903.28L420.75 903.14L421.3 903.61L421.85 903.49L422.4 903.56L422.95 903.66L423.5 903.53L424.05 903.9L424.6 903.65L425.15 903.9L425.7 904.2L426 904.3Z" fill="#000" stroke="#000" stroke-width="0.4"/>
<path d="M341 904.3L341 903.33L341.8 903.24L342.6 903.26L343.4 903.97L344.2 903.47L345 903.75L345.8 903.91L346.6 903.3L347.4 904.01L348.2 904.03L349 903.79L349.8 903.97L350.6 903.74L351.4 903.53L352.2 903.64L353 903.27L353.8 903.67L354.6 903.97L355.4 903.61L356.2 904.08L357 903.51L357.8 903.96L358.6 903.66L359.4 903.71L360.2 903.26L361 903.99L361.8 903.85L362.6 903.8L363.4 903.63L364.2 903.75L365 903.22L365.8 903.27L366.6 903.25L367.4 903.5L368.2 903.38L369 903.6L369.8 903.92L370.6 903.95L371.4 903.93L372.2 903.41L373 903.5L373.8 904.07L374.6 903.84L375.4 904.03L376.2 903.63L377 903.79L377.8 903.67L378.6 903.77L379.4 903.74L380.2 903.69L381 903.39L381.8 904.04L382.6 903.42L383.4 903.57L384.2 903.39L385 903.96L385.8 903.84L386.6 903.28L387.4 903.24L388.2 903.85L389 903.76L389.8 903.8L390.6 903.8L391.4 903.25L392.2 903.65L393 903.72L393.8 903.29L394.6 903.53L395.4 903.26L396.2 903.52L397 903.7L397.8 904.03L398.6 903.65L399.4 903.63L400.2 903.54L401 903.34L401.8 903.77L402.6 903.61L403.4 903.36L404.2 903.25L405 903.36L405.8 903.86L406.6 903.36L407.4 903.49L408.2 903.82L409 903.6L409.8 903.39L410.6 903.37L411.4 903.88L412.2 903.66L413 903.5L413.8 903.95L414.6 903.41L415.4 903.39L416.2 903.58L417 903.24L417.8 903.82L418.6 903.85L419.4 903.23L420.2 903.55L421 904.09L421.8 903.71L422.6 903.81L423.4 903.36L424.2 903.22L425 903.98L425.8 903.49L426 904.3Z" fill="#000" stroke="#000" stroke-width="0.3"/>
<rect x="317.3" y="829.8" width="126.7" height="75.1" fill="none" stroke="#1c1c1c" stroke-width="1"/>
<line x1="317.3" y1="904.9" x2="444" y2="904.9" stroke="#000" stroke-width="1.3"/>
<line x1="315.1" y1="904.9" x2="317.3" y2="904.9" stroke="#111" stroke-width="0.9"/>
<line x1="316.1" y1="901.14" x2="317.3" y2="901.14" stroke="#111" stroke-width="0.9"/>
<line x1="316.1" y1="897.39" x2="317.3" y2="897.39" stroke="#111" stroke-width="0.9"/>
<line x1="316.1" y1="893.63" x2="317.3" y2="893.63" stroke="#111" stroke-width="0.9"/>
<line x1="315.1" y1="889.88" x2="317.3" y2="889.88" stroke="#111" stroke-width="0.9"/>
<line x1="316.1" y1="886.12" x2="317.3" y2="886.12" stroke="#111" stroke-width="0.9"/>
<line x1="316.1" y1="882.37" x2="317.3" y2="882.37" stroke="#111" stroke-width="0.9"/>
<line x1="316.1" y1="878.62" x2="317.3" y2="878.62" stroke="#111" stroke-width="0.9"/>
<line x1="315.1" y1="874.86" x2="317.3" y2="874.86" stroke="#111" stroke-width="0.9"/>
<line x1="316.1" y1="871.11" x2="317.3" y2="871.11" stroke="#111" stroke-width="0.9"/>
<line x1="316.1" y1="867.35" x2="317.3" y2="867.35" stroke="#111" stroke-width="0.9"/>
<line x1="316.1" y1="863.59" x2="317.3" y2="863.59" stroke="#111" stroke-width="0.9"/>
<line x1="315.1" y1="859.84" x2="317.3" y2="859.84" stroke="#111" stroke-width="0.9"/>
<line x1="316.1" y1="856.08" x2="317.3" y2="856.08" stroke="#111" stroke-width="0.9"/>
<line x1="316.1" y1="852.33" x2="317.3" y2="852.33" stroke="#111" stroke-width="0.9"/>
<line x1="316.1" y1="848.57" x2="317.3" y2="848.57" stroke="#111" stroke-width="0.9"/>
<line x1="315.1" y1="844.82" x2="317.3" y2="844.82" stroke="#111" stroke-width="0.9"/>
<line x1="316.1" y1="841.06" x2="317.3" y2="841.06" stroke="#111" stroke-width="0.9"/>
<line x1="316.1" y1="837.31" x2="317.3" y2="837.31" stroke="#111" stroke-width="0.9"/>
<line x1="316.1" y1="833.55" x2="317.3" y2="833.55" stroke="#111" stroke-width="0.9"/>
<line x1="315.1" y1="829.8" x2="317.3" y2="829.8" stroke="#111" stroke-width="0.9"/>
<text transform="translate(314.1,904.9) rotate(-90)" font-size="4.8" font-weight="bold" text-anchor="middle" fill="#222">0</text>
<text transform="translate(314.1,889.88) rotate(-90)" font-size="4.8" font-weight="bold" text-anchor="middle" fill="#222">40</text>
<text transform="translate(314.1,874.86) rotate(-90)" font-size="4.8" font-weight="bold" text-anchor="middle" fill="#222">80</text>
<text transform="translate(314.1,859.84) rotate(-90)" font-size="4.8" font-weight="bold" text-anchor="middle" fill="#222">120</text>
<text transform="translate(314.1,844.82) rotate(-90)" font-size="4.8" font-weight="bold" text-anchor="middle" fill="#222">160</text>
<text transform="translate(314.1,832) rotate(-90)" font-size="4.8" font-weight="bold" text-anchor="middle" fill="#222">200</text>
<line x1="318.3" y1="904.9" x2="318.3" y2="906.5" stroke="#111" stroke-width="0.9"/>
<line x1="328.48" y1="904.9" x2="328.48" y2="906.5" stroke="#111" stroke-width="0.9"/>
<line x1="338.65" y1="904.9" x2="338.65" y2="906.5" stroke="#111" stroke-width="0.9"/>
<line x1="348.83" y1="904.9" x2="348.83" y2="906.5" stroke="#111" stroke-width="0.9"/>
<line x1="359" y1="904.9" x2="359" y2="906.5" stroke="#111" stroke-width="0.9"/>
<line x1="369.18" y1="904.9" x2="369.18" y2="906.5" stroke="#111" stroke-width="0.9"/>
<line x1="379.35" y1="904.9" x2="379.35" y2="906.5" stroke="#111" stroke-width="0.9"/>
<line x1="389.53" y1="904.9" x2="389.53" y2="906.5" stroke="#111" stroke-width="0.9"/>
<line x1="399.7" y1="904.9" x2="399.7" y2="906.5" stroke="#111" stroke-width="0.9"/>
<line x1="409.88" y1="904.9" x2="409.88" y2="906.5" stroke="#111" stroke-width="0.9"/>
<line x1="420.05" y1="904.9" x2="420.05" y2="906.5" stroke="#111" stroke-width="0.9"/>
<line x1="430.23" y1="904.9" x2="430.23" y2="906.5" stroke="#111" stroke-width="0.9"/>
<line x1="440.4" y1="904.9" x2="440.4" y2="906.5" stroke="#111" stroke-width="0.9"/>
<text x="318.3" y="912.9" font-size="5.0" font-weight="bold" text-anchor="middle" fill="#222">0</text>
<text x="359" y="912.9" font-size="5.0" font-weight="bold" text-anchor="middle" fill="#222">200</text>
<text x="400.4" y="912.9" font-size="5.0" font-weight="bold" text-anchor="middle" fill="#222">400</text>
<text x="440.8" y="912.9" font-size="5.0" font-weight="bold" text-anchor="middle" fill="#222">600</text>
<text x="390.3" y="838.6" font-size="8.21" fill="#242424" stroke="#242424" stroke-width="0.06">G0/G1: 48%</text>
<text x="390.3" y="847.9" font-size="8.21" fill="#242424" stroke="#242424" stroke-width="0.06">S: 30%</text>
<text x="390.3" y="857.2" font-size="8.21" fill="#242424" stroke="#242424" stroke-width="0.06">G2: 22%</text>
</g>
</g>
</g>
</svg>
</body>
</html>
